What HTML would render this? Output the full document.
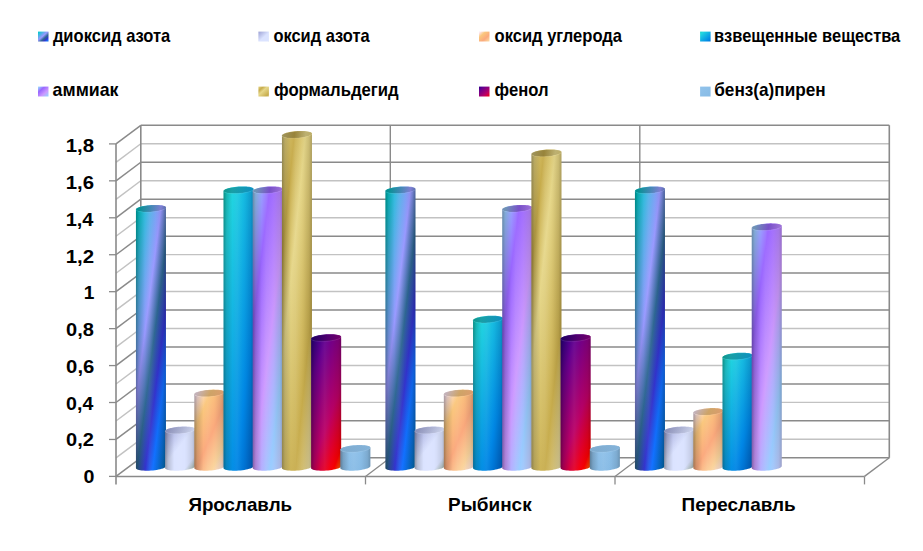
<!DOCTYPE html>
<html lang="ru"><head><meta charset="utf-8"><title>Диаграмма</title>
<style>html,body{margin:0;padding:0;background:#fff}body{width:923px;height:551px;overflow:hidden}svg{display:block}text{font-family:"Liberation Sans",sans-serif;font-weight:bold;fill:#000}</style>
</head><body>
<svg width="923" height="551" viewBox="0 0 923 551">
<defs>
<linearGradient id="g-peacock" x1="-0.1399" y1="-0.1609" x2="0.9365" y2="1.0770"><stop offset="0%" stop-color="#3399FF"/><stop offset="16%" stop-color="#00CCCC"/><stop offset="47%" stop-color="#9999FF"/><stop offset="60%" stop-color="#2E6792"/><stop offset="71%" stop-color="#3333CC"/><stop offset="81%" stop-color="#1170FF"/><stop offset="100%" stop-color="#006699"/></linearGradient>
<linearGradient id="g-fog" x1="-0.1399" y1="-0.1609" x2="0.9365" y2="1.0770"><stop offset="0%" stop-color="#888CC7"/><stop offset="53%" stop-color="#DBE3FF"/><stop offset="83%" stop-color="#DBE3FF"/><stop offset="100%" stop-color="#9CB09A"/></linearGradient>
<linearGradient id="g-wheat" x1="-0.1399" y1="-0.1609" x2="0.9365" y2="1.0770"><stop offset="0%" stop-color="#FBEAC7"/><stop offset="18%" stop-color="#FEE7F2"/><stop offset="36%" stop-color="#FAC77D"/><stop offset="61%" stop-color="#FBA97D"/><stop offset="82%" stop-color="#FBD49C"/><stop offset="100%" stop-color="#FEE7F2"/></linearGradient>
<linearGradient id="g-ocean" x1="-0.1399" y1="-0.1609" x2="0.9365" y2="1.0770"><stop offset="0%" stop-color="#03D4A8"/><stop offset="25%" stop-color="#21D6E0"/><stop offset="75%" stop-color="#0087E6"/><stop offset="100%" stop-color="#005CBF"/></linearGradient>
<linearGradient id="g-calm" x1="-0.1399" y1="-0.1609" x2="0.9365" y2="1.0770"><stop offset="0%" stop-color="#CCCCFF"/><stop offset="18%" stop-color="#99CCFF"/><stop offset="36%" stop-color="#9966FF"/><stop offset="61%" stop-color="#CC99FF"/><stop offset="82%" stop-color="#99CCFF"/><stop offset="100%" stop-color="#CCCCFF"/></linearGradient>
<linearGradient id="g-gold" x1="-0.1399" y1="-0.1609" x2="0.9365" y2="1.0770"><stop offset="0%" stop-color="#E6DCAC"/><stop offset="12%" stop-color="#E6D78A"/><stop offset="30%" stop-color="#C7AC4C"/><stop offset="45%" stop-color="#E6D78A"/><stop offset="77%" stop-color="#C7AC4C"/><stop offset="100%" stop-color="#E6DCAC"/></linearGradient>
<linearGradient id="g-sunset" x1="-0.0882" y1="-0.1471" x2="0.7139" y2="1.1898"><stop offset="0%" stop-color="#000082"/><stop offset="30%" stop-color="#66008F"/><stop offset="65%" stop-color="#BA0066"/><stop offset="90%" stop-color="#FF0000"/><stop offset="100%" stop-color="#FF8200"/></linearGradient>
<linearGradient id="g-benz" x1="-0.1399" y1="-0.1609" x2="0.9365" y2="1.0770"><stop offset="0%" stop-color="#93C4EC"/><stop offset="100%" stop-color="#86BAE4"/></linearGradient>
<linearGradient id="l-peacock" x1="-0.1708" y1="-0.1803" x2="1.1431" y2="1.2066"><stop offset="0%" stop-color="#3399FF"/><stop offset="16%" stop-color="#00CCCC"/><stop offset="47%" stop-color="#9999FF"/><stop offset="60%" stop-color="#2E6792"/><stop offset="71%" stop-color="#3333CC"/><stop offset="81%" stop-color="#1170FF"/><stop offset="100%" stop-color="#006699"/></linearGradient>
<linearGradient id="l-fog" x1="-0.1708" y1="-0.1803" x2="1.1431" y2="1.2066"><stop offset="0%" stop-color="#888CC7"/><stop offset="53%" stop-color="#DBE3FF"/><stop offset="83%" stop-color="#DBE3FF"/><stop offset="100%" stop-color="#9CB09A"/></linearGradient>
<linearGradient id="l-wheat" x1="-0.1708" y1="-0.1803" x2="1.1431" y2="1.2066"><stop offset="0%" stop-color="#FBEAC7"/><stop offset="18%" stop-color="#FEE7F2"/><stop offset="36%" stop-color="#FAC77D"/><stop offset="61%" stop-color="#FBA97D"/><stop offset="82%" stop-color="#FBD49C"/><stop offset="100%" stop-color="#FEE7F2"/></linearGradient>
<linearGradient id="l-ocean" x1="-0.1708" y1="-0.1803" x2="1.1431" y2="1.2066"><stop offset="0%" stop-color="#03D4A8"/><stop offset="25%" stop-color="#21D6E0"/><stop offset="75%" stop-color="#0087E6"/><stop offset="100%" stop-color="#005CBF"/></linearGradient>
<linearGradient id="l-calm" x1="-0.1708" y1="-0.1803" x2="1.1431" y2="1.2066"><stop offset="0%" stop-color="#CCCCFF"/><stop offset="18%" stop-color="#99CCFF"/><stop offset="36%" stop-color="#9966FF"/><stop offset="61%" stop-color="#CC99FF"/><stop offset="82%" stop-color="#99CCFF"/><stop offset="100%" stop-color="#CCCCFF"/></linearGradient>
<linearGradient id="l-gold" x1="-0.1708" y1="-0.1803" x2="1.1431" y2="1.2066"><stop offset="0%" stop-color="#E6DCAC"/><stop offset="12%" stop-color="#E6D78A"/><stop offset="30%" stop-color="#C7AC4C"/><stop offset="45%" stop-color="#E6D78A"/><stop offset="77%" stop-color="#C7AC4C"/><stop offset="100%" stop-color="#E6DCAC"/></linearGradient>
<linearGradient id="l-sunset" x1="-0.1708" y1="-0.1803" x2="1.1431" y2="1.2066"><stop offset="0%" stop-color="#000082"/><stop offset="30%" stop-color="#66008F"/><stop offset="65%" stop-color="#BA0066"/><stop offset="90%" stop-color="#FF0000"/><stop offset="100%" stop-color="#FF8200"/></linearGradient>
<linearGradient id="l-benz" x1="-0.1708" y1="-0.1803" x2="1.1431" y2="1.2066"><stop offset="0%" stop-color="#93C4EC"/><stop offset="100%" stop-color="#86BAE4"/></linearGradient>
<linearGradient id="shade" x1="0" y1="0" x2="1" y2="0"><stop offset="0" stop-color="#000" stop-opacity="0.34"/><stop offset="0.10" stop-color="#000" stop-opacity="0.16"/><stop offset="0.30" stop-color="#000" stop-opacity="0"/><stop offset="0.30" stop-color="#fff" stop-opacity="0"/><stop offset="0.45" stop-color="#fff" stop-opacity="0.05"/><stop offset="0.64" stop-color="#fff" stop-opacity="0"/><stop offset="0.64" stop-color="#000" stop-opacity="0"/><stop offset="0.72" stop-color="#000" stop-opacity="0.02"/><stop offset="0.90" stop-color="#000" stop-opacity="0.10"/><stop offset="1" stop-color="#000" stop-opacity="0.22"/></linearGradient>
<linearGradient id="topshade" x1="0" y1="0" x2="1" y2="0"><stop offset="0" stop-color="#000" stop-opacity="0.30"/><stop offset="1" stop-color="#000" stop-opacity="0.15"/></linearGradient>
</defs>
<rect width="923" height="551" fill="#fff"/>
<g fill="none" stroke-linecap="butt">
<line x1="140.80" y1="457.80" x2="889.30" y2="457.80" stroke="#8a8a8a" stroke-width="1.5"/>
<line x1="116.00" y1="476.40" x2="140.80" y2="457.80" stroke="#8a8a8a" stroke-width="1.5"/>
<line x1="109.00" y1="476.40" x2="116.00" y2="476.40" stroke="#8a8a8a" stroke-width="1.3"/>
<line x1="140.80" y1="439.33" x2="889.30" y2="439.33" stroke="#c2c2c2" stroke-width="1.45"/>
<line x1="116.00" y1="457.93" x2="140.80" y2="439.33" stroke="#c2c2c2" stroke-width="1.45"/>
<line x1="140.80" y1="420.86" x2="889.30" y2="420.86" stroke="#8a8a8a" stroke-width="1.5"/>
<line x1="116.00" y1="439.46" x2="140.80" y2="420.86" stroke="#8a8a8a" stroke-width="1.5"/>
<line x1="109.00" y1="439.46" x2="116.00" y2="439.46" stroke="#8a8a8a" stroke-width="1.3"/>
<line x1="140.80" y1="402.38" x2="889.30" y2="402.38" stroke="#c2c2c2" stroke-width="1.45"/>
<line x1="116.00" y1="420.98" x2="140.80" y2="402.38" stroke="#c2c2c2" stroke-width="1.45"/>
<line x1="140.80" y1="383.91" x2="889.30" y2="383.91" stroke="#8a8a8a" stroke-width="1.5"/>
<line x1="116.00" y1="402.51" x2="140.80" y2="383.91" stroke="#8a8a8a" stroke-width="1.5"/>
<line x1="109.00" y1="402.51" x2="116.00" y2="402.51" stroke="#8a8a8a" stroke-width="1.3"/>
<line x1="140.80" y1="365.44" x2="889.30" y2="365.44" stroke="#c2c2c2" stroke-width="1.45"/>
<line x1="116.00" y1="384.04" x2="140.80" y2="365.44" stroke="#c2c2c2" stroke-width="1.45"/>
<line x1="140.80" y1="346.97" x2="889.30" y2="346.97" stroke="#8a8a8a" stroke-width="1.5"/>
<line x1="116.00" y1="365.57" x2="140.80" y2="346.97" stroke="#8a8a8a" stroke-width="1.5"/>
<line x1="109.00" y1="365.57" x2="116.00" y2="365.57" stroke="#8a8a8a" stroke-width="1.3"/>
<line x1="140.80" y1="328.49" x2="889.30" y2="328.49" stroke="#c2c2c2" stroke-width="1.45"/>
<line x1="116.00" y1="347.09" x2="140.80" y2="328.49" stroke="#c2c2c2" stroke-width="1.45"/>
<line x1="140.80" y1="310.02" x2="889.30" y2="310.02" stroke="#8a8a8a" stroke-width="1.5"/>
<line x1="116.00" y1="328.62" x2="140.80" y2="310.02" stroke="#8a8a8a" stroke-width="1.5"/>
<line x1="109.00" y1="328.62" x2="116.00" y2="328.62" stroke="#8a8a8a" stroke-width="1.3"/>
<line x1="140.80" y1="291.55" x2="889.30" y2="291.55" stroke="#c2c2c2" stroke-width="1.45"/>
<line x1="116.00" y1="310.15" x2="140.80" y2="291.55" stroke="#c2c2c2" stroke-width="1.45"/>
<line x1="140.80" y1="273.08" x2="889.30" y2="273.08" stroke="#8a8a8a" stroke-width="1.5"/>
<line x1="116.00" y1="291.68" x2="140.80" y2="273.08" stroke="#8a8a8a" stroke-width="1.5"/>
<line x1="109.00" y1="291.68" x2="116.00" y2="291.68" stroke="#8a8a8a" stroke-width="1.3"/>
<line x1="140.80" y1="254.61" x2="889.30" y2="254.61" stroke="#c2c2c2" stroke-width="1.45"/>
<line x1="116.00" y1="273.21" x2="140.80" y2="254.61" stroke="#c2c2c2" stroke-width="1.45"/>
<line x1="140.80" y1="236.13" x2="889.30" y2="236.13" stroke="#8a8a8a" stroke-width="1.5"/>
<line x1="116.00" y1="254.73" x2="140.80" y2="236.13" stroke="#8a8a8a" stroke-width="1.5"/>
<line x1="109.00" y1="254.73" x2="116.00" y2="254.73" stroke="#8a8a8a" stroke-width="1.3"/>
<line x1="140.80" y1="217.66" x2="889.30" y2="217.66" stroke="#c2c2c2" stroke-width="1.45"/>
<line x1="116.00" y1="236.26" x2="140.80" y2="217.66" stroke="#c2c2c2" stroke-width="1.45"/>
<line x1="140.80" y1="199.19" x2="889.30" y2="199.19" stroke="#8a8a8a" stroke-width="1.5"/>
<line x1="116.00" y1="217.79" x2="140.80" y2="199.19" stroke="#8a8a8a" stroke-width="1.5"/>
<line x1="109.00" y1="217.79" x2="116.00" y2="217.79" stroke="#8a8a8a" stroke-width="1.3"/>
<line x1="140.80" y1="180.72" x2="889.30" y2="180.72" stroke="#c2c2c2" stroke-width="1.45"/>
<line x1="116.00" y1="199.32" x2="140.80" y2="180.72" stroke="#c2c2c2" stroke-width="1.45"/>
<line x1="140.80" y1="162.24" x2="889.30" y2="162.24" stroke="#8a8a8a" stroke-width="1.5"/>
<line x1="116.00" y1="180.84" x2="140.80" y2="162.24" stroke="#8a8a8a" stroke-width="1.5"/>
<line x1="109.00" y1="180.84" x2="116.00" y2="180.84" stroke="#8a8a8a" stroke-width="1.3"/>
<line x1="140.80" y1="143.77" x2="889.30" y2="143.77" stroke="#c2c2c2" stroke-width="1.45"/>
<line x1="116.00" y1="162.37" x2="140.80" y2="143.77" stroke="#c2c2c2" stroke-width="1.45"/>
<line x1="140.80" y1="125.30" x2="889.30" y2="125.30" stroke="#8a8a8a" stroke-width="1.5"/>
<line x1="116.00" y1="143.90" x2="140.80" y2="125.30" stroke="#8a8a8a" stroke-width="1.5"/>
<line x1="109.00" y1="143.90" x2="116.00" y2="143.90" stroke="#8a8a8a" stroke-width="1.3"/>
<line x1="140.80" y1="125.30" x2="140.80" y2="457.80" stroke="#8a8a8a" stroke-width="1.6"/>
<line x1="889.30" y1="125.30" x2="889.30" y2="457.80" stroke="#8a8a8a" stroke-width="1.6"/>
<line x1="116.00" y1="143.90" x2="116.00" y2="484.40" stroke="#8a8a8a" stroke-width="1.6"/>
<line x1="390.30" y1="125.30" x2="390.30" y2="457.80" stroke="#8a8a8a" stroke-width="1.4"/>
<line x1="390.30" y1="457.80" x2="365.50" y2="476.40" stroke="#8a8a8a" stroke-width="1.3"/>
<line x1="365.50" y1="476.40" x2="365.50" y2="484.40" stroke="#8a8a8a" stroke-width="1.3"/>
<line x1="639.80" y1="125.30" x2="639.80" y2="457.80" stroke="#8a8a8a" stroke-width="1.4"/>
<line x1="639.80" y1="457.80" x2="615.00" y2="476.40" stroke="#8a8a8a" stroke-width="1.3"/>
<line x1="615.00" y1="476.40" x2="615.00" y2="484.40" stroke="#8a8a8a" stroke-width="1.3"/>
<line x1="116.00" y1="476.40" x2="864.50" y2="476.40" stroke="#8a8a8a" stroke-width="1.5"/>
<line x1="864.50" y1="476.40" x2="889.30" y2="457.80" stroke="#8a8a8a" stroke-width="1.4"/>
<line x1="864.50" y1="476.40" x2="864.50" y2="484.40" stroke="#8a8a8a" stroke-width="1.3"/>
</g>
<path d="M135.95,209.50 L136.08,209.04 L136.46,208.57 L137.09,208.10 L137.96,207.63 L139.05,207.18 L140.34,206.76 L141.82,206.36 L143.45,206.00 L145.21,205.68 L147.07,205.41 L148.99,205.19 L150.95,205.03 L152.91,204.93 L154.83,204.89 L156.69,204.91 L158.45,204.99 L160.08,205.13 L161.56,205.33 L162.85,205.59 L163.94,205.89 L164.81,206.24 L165.44,206.62 L165.82,207.04 L165.95,207.48 L165.95,466.09 L165.82,466.55 L165.44,467.02 L164.81,467.49 L163.94,467.96 L162.85,468.40 L161.56,468.83 L160.08,469.23 L158.45,469.59 L156.69,469.91 L154.83,470.18 L152.91,470.39 L150.95,470.56 L148.99,470.66 L147.07,470.70 L145.21,470.68 L143.45,470.60 L141.82,470.46 L140.34,470.26 L139.05,470.00 L137.96,469.70 L137.09,469.35 L136.46,468.97 L136.08,468.55 L135.95,468.11Z" fill="url(#g-peacock)"/>
<path d="M135.95,209.50 L136.08,209.04 L136.46,208.57 L137.09,208.10 L137.96,207.63 L139.05,207.18 L140.34,206.76 L141.82,206.36 L143.45,206.00 L145.21,205.68 L147.07,205.41 L148.99,205.19 L150.95,205.03 L152.91,204.93 L154.83,204.89 L156.69,204.91 L158.45,204.99 L160.08,205.13 L161.56,205.33 L162.85,205.59 L163.94,205.89 L164.81,206.24 L165.44,206.62 L165.82,207.04 L165.95,207.48 L165.95,466.09 L165.82,466.55 L165.44,467.02 L164.81,467.49 L163.94,467.96 L162.85,468.40 L161.56,468.83 L160.08,469.23 L158.45,469.59 L156.69,469.91 L154.83,470.18 L152.91,470.39 L150.95,470.56 L148.99,470.66 L147.07,470.70 L145.21,470.68 L143.45,470.60 L141.82,470.46 L140.34,470.26 L139.05,470.00 L137.96,469.70 L137.09,469.35 L136.46,468.97 L136.08,468.55 L135.95,468.11Z" fill="url(#shade)"/>
<clipPath id="c00"><path d="M165.35,208.49 L165.78,208.02 L165.95,207.56 L165.86,207.11 L165.52,206.69 L164.93,206.30 L164.10,205.94 L163.05,205.63 L161.79,205.37 L160.34,205.16 L158.73,205.01 L156.99,204.92 L155.15,204.89 L153.23,204.92 L151.28,205.01 L149.32,205.16 L147.39,205.37 L145.52,205.63 L143.74,205.94 L142.08,206.30 L140.58,206.69 L139.25,207.11 L138.13,207.56 L137.22,208.02 L136.55,208.49 L136.12,208.96 L135.95,209.42 L136.04,209.87 L136.38,210.29 L136.97,210.68 L137.80,211.03 L138.85,211.34 L140.11,211.61 L141.56,211.81 L143.17,211.97 L144.91,212.06 L146.75,212.09 L148.67,212.06 L150.62,211.97 L152.58,211.81 L154.51,211.61 L156.38,211.34 L158.16,211.03 L159.82,210.68 L161.32,210.29 L162.65,209.87 L163.77,209.42 L164.68,208.96 L165.35,208.49Z"/></clipPath>
<g clip-path="url(#c00)"><path d="M135.95,209.50 L136.08,209.04 L136.46,208.57 L137.09,208.10 L137.96,207.63 L139.05,207.18 L140.34,206.76 L141.82,206.36 L143.45,206.00 L145.21,205.68 L147.07,205.41 L148.99,205.19 L150.95,205.03 L152.91,204.93 L154.83,204.89 L156.69,204.91 L158.45,204.99 L160.08,205.13 L161.56,205.33 L162.85,205.59 L163.94,205.89 L164.81,206.24 L165.44,206.62 L165.82,207.04 L165.95,207.48 L165.95,466.09 L165.82,466.55 L165.44,467.02 L164.81,467.49 L163.94,467.96 L162.85,468.40 L161.56,468.83 L160.08,469.23 L158.45,469.59 L156.69,469.91 L154.83,470.18 L152.91,470.39 L150.95,470.56 L148.99,470.66 L147.07,470.70 L145.21,470.68 L143.45,470.60 L141.82,470.46 L140.34,470.26 L139.05,470.00 L137.96,469.70 L137.09,469.35 L136.46,468.97 L136.08,468.55 L135.95,468.11Z" fill="url(#g-peacock)"/><path d="M165.35,208.49 L165.78,208.02 L165.95,207.56 L165.86,207.11 L165.52,206.69 L164.93,206.30 L164.10,205.94 L163.05,205.63 L161.79,205.37 L160.34,205.16 L158.73,205.01 L156.99,204.92 L155.15,204.89 L153.23,204.92 L151.28,205.01 L149.32,205.16 L147.39,205.37 L145.52,205.63 L143.74,205.94 L142.08,206.30 L140.58,206.69 L139.25,207.11 L138.13,207.56 L137.22,208.02 L136.55,208.49 L136.12,208.96 L135.95,209.42 L136.04,209.87 L136.38,210.29 L136.97,210.68 L137.80,211.03 L138.85,211.34 L140.11,211.61 L141.56,211.81 L143.17,211.97 L144.91,212.06 L146.75,212.09 L148.67,212.06 L150.62,211.97 L152.58,211.81 L154.51,211.61 L156.38,211.34 L158.16,211.03 L159.82,210.68 L161.32,210.29 L162.65,209.87 L163.77,209.42 L164.68,208.96 L165.35,208.49Z" fill="url(#topshade)" opacity="1"/></g>
<path d="M165.35,208.49 L165.78,208.02 L165.95,207.56 L165.86,207.11 L165.52,206.69 L164.93,206.30 L164.10,205.94 L163.05,205.63 L161.79,205.37 L160.34,205.16 L158.73,205.01 L156.99,204.92 L155.15,204.89 L153.23,204.92 L151.28,205.01 L149.32,205.16 L147.39,205.37 L145.52,205.63 L143.74,205.94 L142.08,206.30 L140.58,206.69 L139.25,207.11 L138.13,207.56 L137.22,208.02 L136.55,208.49 L136.12,208.96 L135.95,209.42 L136.04,209.87 L136.38,210.29 L136.97,210.68 L137.80,211.03 L138.85,211.34 L140.11,211.61 L141.56,211.81 L143.17,211.97 L144.91,212.06 L146.75,212.09 L148.67,212.06 L150.62,211.97 L152.58,211.81 L154.51,211.61 L156.38,211.34 L158.16,211.03 L159.82,210.68 L161.32,210.29 L162.65,209.87 L163.77,209.42 L164.68,208.96 L165.35,208.49Z" fill="none" stroke="#fff" stroke-opacity="0.13" stroke-width="0.8"/>
<path d="M165.15,431.16 L165.28,430.70 L165.66,430.23 L166.29,429.76 L167.16,429.30 L168.25,428.85 L169.54,428.42 L171.02,428.03 L172.65,427.67 L174.41,427.35 L176.27,427.08 L178.19,426.86 L180.15,426.70 L182.11,426.60 L184.03,426.56 L185.89,426.58 L187.65,426.66 L189.28,426.80 L190.76,427.00 L192.05,427.25 L193.14,427.55 L194.01,427.90 L194.64,428.29 L195.02,428.71 L195.15,429.15 L195.15,466.09 L195.02,466.55 L194.64,467.02 L194.01,467.49 L193.14,467.96 L192.05,468.40 L190.76,468.83 L189.28,469.23 L187.65,469.59 L185.89,469.91 L184.03,470.18 L182.11,470.39 L180.15,470.56 L178.19,470.66 L176.27,470.70 L174.41,470.68 L172.65,470.60 L171.02,470.46 L169.54,470.26 L168.25,470.00 L167.16,469.70 L166.29,469.35 L165.66,468.97 L165.28,468.55 L165.15,468.11Z" fill="url(#g-fog)"/>
<path d="M165.15,431.16 L165.28,430.70 L165.66,430.23 L166.29,429.76 L167.16,429.30 L168.25,428.85 L169.54,428.42 L171.02,428.03 L172.65,427.67 L174.41,427.35 L176.27,427.08 L178.19,426.86 L180.15,426.70 L182.11,426.60 L184.03,426.56 L185.89,426.58 L187.65,426.66 L189.28,426.80 L190.76,427.00 L192.05,427.25 L193.14,427.55 L194.01,427.90 L194.64,428.29 L195.02,428.71 L195.15,429.15 L195.15,466.09 L195.02,466.55 L194.64,467.02 L194.01,467.49 L193.14,467.96 L192.05,468.40 L190.76,468.83 L189.28,469.23 L187.65,469.59 L185.89,469.91 L184.03,470.18 L182.11,470.39 L180.15,470.56 L178.19,470.66 L176.27,470.70 L174.41,470.68 L172.65,470.60 L171.02,470.46 L169.54,470.26 L168.25,470.00 L167.16,469.70 L166.29,469.35 L165.66,468.97 L165.28,468.55 L165.15,468.11Z" fill="url(#shade)"/>
<clipPath id="c01"><path d="M194.55,430.16 L194.98,429.69 L195.15,429.22 L195.06,428.78 L194.72,428.36 L194.13,427.96 L193.30,427.61 L192.25,427.30 L190.99,427.04 L189.54,426.83 L187.93,426.68 L186.19,426.59 L184.35,426.56 L182.43,426.59 L180.48,426.68 L178.52,426.83 L176.59,427.04 L174.72,427.30 L172.94,427.61 L171.28,427.96 L169.78,428.36 L168.45,428.78 L167.33,429.22 L166.42,429.69 L165.75,430.16 L165.32,430.63 L165.15,431.09 L165.24,431.53 L165.58,431.96 L166.17,432.35 L167.00,432.70 L168.05,433.01 L169.31,433.27 L170.76,433.48 L172.37,433.63 L174.11,433.72 L175.95,433.76 L177.87,433.72 L179.82,433.63 L181.78,433.48 L183.71,433.27 L185.58,433.01 L187.36,432.70 L189.02,432.35 L190.52,431.96 L191.85,431.53 L192.97,431.09 L193.88,430.63 L194.55,430.16Z"/></clipPath>
<g clip-path="url(#c01)"><path d="M165.15,431.16 L165.28,430.70 L165.66,430.23 L166.29,429.76 L167.16,429.30 L168.25,428.85 L169.54,428.42 L171.02,428.03 L172.65,427.67 L174.41,427.35 L176.27,427.08 L178.19,426.86 L180.15,426.70 L182.11,426.60 L184.03,426.56 L185.89,426.58 L187.65,426.66 L189.28,426.80 L190.76,427.00 L192.05,427.25 L193.14,427.55 L194.01,427.90 L194.64,428.29 L195.02,428.71 L195.15,429.15 L195.15,466.09 L195.02,466.55 L194.64,467.02 L194.01,467.49 L193.14,467.96 L192.05,468.40 L190.76,468.83 L189.28,469.23 L187.65,469.59 L185.89,469.91 L184.03,470.18 L182.11,470.39 L180.15,470.56 L178.19,470.66 L176.27,470.70 L174.41,470.68 L172.65,470.60 L171.02,470.46 L169.54,470.26 L168.25,470.00 L167.16,469.70 L166.29,469.35 L165.66,468.97 L165.28,468.55 L165.15,468.11Z" fill="url(#g-fog)"/><path d="M194.55,430.16 L194.98,429.69 L195.15,429.22 L195.06,428.78 L194.72,428.36 L194.13,427.96 L193.30,427.61 L192.25,427.30 L190.99,427.04 L189.54,426.83 L187.93,426.68 L186.19,426.59 L184.35,426.56 L182.43,426.59 L180.48,426.68 L178.52,426.83 L176.59,427.04 L174.72,427.30 L172.94,427.61 L171.28,427.96 L169.78,428.36 L168.45,428.78 L167.33,429.22 L166.42,429.69 L165.75,430.16 L165.32,430.63 L165.15,431.09 L165.24,431.53 L165.58,431.96 L166.17,432.35 L167.00,432.70 L168.05,433.01 L169.31,433.27 L170.76,433.48 L172.37,433.63 L174.11,433.72 L175.95,433.76 L177.87,433.72 L179.82,433.63 L181.78,433.48 L183.71,433.27 L185.58,433.01 L187.36,432.70 L189.02,432.35 L190.52,431.96 L191.85,431.53 L192.97,431.09 L193.88,430.63 L194.55,430.16Z" fill="url(#topshade)" opacity="0.55"/></g>
<path d="M194.55,430.16 L194.98,429.69 L195.15,429.22 L195.06,428.78 L194.72,428.36 L194.13,427.96 L193.30,427.61 L192.25,427.30 L190.99,427.04 L189.54,426.83 L187.93,426.68 L186.19,426.59 L184.35,426.56 L182.43,426.59 L180.48,426.68 L178.52,426.83 L176.59,427.04 L174.72,427.30 L172.94,427.61 L171.28,427.96 L169.78,428.36 L168.45,428.78 L167.33,429.22 L166.42,429.69 L165.75,430.16 L165.32,430.63 L165.15,431.09 L165.24,431.53 L165.58,431.96 L166.17,432.35 L167.00,432.70 L168.05,433.01 L169.31,433.27 L170.76,433.48 L172.37,433.63 L174.11,433.72 L175.95,433.76 L177.87,433.72 L179.82,433.63 L181.78,433.48 L183.71,433.27 L185.58,433.01 L187.36,432.70 L189.02,432.35 L190.52,431.96 L191.85,431.53 L192.97,431.09 L193.88,430.63 L194.55,430.16Z" fill="none" stroke="#fff" stroke-opacity="0.13" stroke-width="0.8"/>
<path d="M194.35,394.22 L194.48,393.76 L194.86,393.29 L195.49,392.82 L196.36,392.36 L197.45,391.91 L198.74,391.48 L200.22,391.08 L201.85,390.72 L203.61,390.40 L205.47,390.13 L207.39,389.92 L209.35,389.76 L211.31,389.65 L213.23,389.61 L215.09,389.63 L216.85,389.71 L218.48,389.86 L219.96,390.05 L221.25,390.31 L222.34,390.61 L223.21,390.96 L223.84,391.34 L224.22,391.76 L224.35,392.20 L224.35,466.09 L224.22,466.55 L223.84,467.02 L223.21,467.49 L222.34,467.96 L221.25,468.40 L219.96,468.83 L218.48,469.23 L216.85,469.59 L215.09,469.91 L213.23,470.18 L211.31,470.39 L209.35,470.56 L207.39,470.66 L205.47,470.70 L203.61,470.68 L201.85,470.60 L200.22,470.46 L198.74,470.26 L197.45,470.00 L196.36,469.70 L195.49,469.35 L194.86,468.97 L194.48,468.55 L194.35,468.11Z" fill="url(#g-wheat)"/>
<path d="M194.35,394.22 L194.48,393.76 L194.86,393.29 L195.49,392.82 L196.36,392.36 L197.45,391.91 L198.74,391.48 L200.22,391.08 L201.85,390.72 L203.61,390.40 L205.47,390.13 L207.39,389.92 L209.35,389.76 L211.31,389.65 L213.23,389.61 L215.09,389.63 L216.85,389.71 L218.48,389.86 L219.96,390.05 L221.25,390.31 L222.34,390.61 L223.21,390.96 L223.84,391.34 L224.22,391.76 L224.35,392.20 L224.35,466.09 L224.22,466.55 L223.84,467.02 L223.21,467.49 L222.34,467.96 L221.25,468.40 L219.96,468.83 L218.48,469.23 L216.85,469.59 L215.09,469.91 L213.23,470.18 L211.31,470.39 L209.35,470.56 L207.39,470.66 L205.47,470.70 L203.61,470.68 L201.85,470.60 L200.22,470.46 L198.74,470.26 L197.45,470.00 L196.36,469.70 L195.49,469.35 L194.86,468.97 L194.48,468.55 L194.35,468.11Z" fill="url(#shade)"/>
<clipPath id="c02"><path d="M223.75,393.21 L224.18,392.74 L224.35,392.28 L224.26,391.83 L223.92,391.41 L223.33,391.02 L222.50,390.67 L221.45,390.36 L220.19,390.09 L218.74,389.89 L217.13,389.73 L215.39,389.64 L213.55,389.61 L211.63,389.64 L209.68,389.73 L207.72,389.89 L205.79,390.09 L203.92,390.36 L202.14,390.67 L200.48,391.02 L198.98,391.41 L197.65,391.83 L196.53,392.28 L195.62,392.74 L194.95,393.21 L194.52,393.68 L194.35,394.14 L194.44,394.59 L194.78,395.01 L195.37,395.40 L196.20,395.76 L197.25,396.07 L198.51,396.33 L199.96,396.54 L201.57,396.69 L203.31,396.78 L205.15,396.81 L207.07,396.78 L209.02,396.69 L210.98,396.54 L212.91,396.33 L214.78,396.07 L216.56,395.76 L218.22,395.40 L219.72,395.01 L221.05,394.59 L222.17,394.14 L223.08,393.68 L223.75,393.21Z"/></clipPath>
<g clip-path="url(#c02)"><path d="M194.35,394.22 L194.48,393.76 L194.86,393.29 L195.49,392.82 L196.36,392.36 L197.45,391.91 L198.74,391.48 L200.22,391.08 L201.85,390.72 L203.61,390.40 L205.47,390.13 L207.39,389.92 L209.35,389.76 L211.31,389.65 L213.23,389.61 L215.09,389.63 L216.85,389.71 L218.48,389.86 L219.96,390.05 L221.25,390.31 L222.34,390.61 L223.21,390.96 L223.84,391.34 L224.22,391.76 L224.35,392.20 L224.35,466.09 L224.22,466.55 L223.84,467.02 L223.21,467.49 L222.34,467.96 L221.25,468.40 L219.96,468.83 L218.48,469.23 L216.85,469.59 L215.09,469.91 L213.23,470.18 L211.31,470.39 L209.35,470.56 L207.39,470.66 L205.47,470.70 L203.61,470.68 L201.85,470.60 L200.22,470.46 L198.74,470.26 L197.45,470.00 L196.36,469.70 L195.49,469.35 L194.86,468.97 L194.48,468.55 L194.35,468.11Z" fill="url(#g-wheat)"/><path d="M223.75,393.21 L224.18,392.74 L224.35,392.28 L224.26,391.83 L223.92,391.41 L223.33,391.02 L222.50,390.67 L221.45,390.36 L220.19,390.09 L218.74,389.89 L217.13,389.73 L215.39,389.64 L213.55,389.61 L211.63,389.64 L209.68,389.73 L207.72,389.89 L205.79,390.09 L203.92,390.36 L202.14,390.67 L200.48,391.02 L198.98,391.41 L197.65,391.83 L196.53,392.28 L195.62,392.74 L194.95,393.21 L194.52,393.68 L194.35,394.14 L194.44,394.59 L194.78,395.01 L195.37,395.40 L196.20,395.76 L197.25,396.07 L198.51,396.33 L199.96,396.54 L201.57,396.69 L203.31,396.78 L205.15,396.81 L207.07,396.78 L209.02,396.69 L210.98,396.54 L212.91,396.33 L214.78,396.07 L216.56,395.76 L218.22,395.40 L219.72,395.01 L221.05,394.59 L222.17,394.14 L223.08,393.68 L223.75,393.21Z" fill="url(#topshade)" opacity="0.8"/></g>
<path d="M223.75,393.21 L224.18,392.74 L224.35,392.28 L224.26,391.83 L223.92,391.41 L223.33,391.02 L222.50,390.67 L221.45,390.36 L220.19,390.09 L218.74,389.89 L217.13,389.73 L215.39,389.64 L213.55,389.61 L211.63,389.64 L209.68,389.73 L207.72,389.89 L205.79,390.09 L203.92,390.36 L202.14,390.67 L200.48,391.02 L198.98,391.41 L197.65,391.83 L196.53,392.28 L195.62,392.74 L194.95,393.21 L194.52,393.68 L194.35,394.14 L194.44,394.59 L194.78,395.01 L195.37,395.40 L196.20,395.76 L197.25,396.07 L198.51,396.33 L199.96,396.54 L201.57,396.69 L203.31,396.78 L205.15,396.81 L207.07,396.78 L209.02,396.69 L210.98,396.54 L212.91,396.33 L214.78,396.07 L216.56,395.76 L218.22,395.40 L219.72,395.01 L221.05,394.59 L222.17,394.14 L223.08,393.68 L223.75,393.21Z" fill="none" stroke="#fff" stroke-opacity="0.13" stroke-width="0.8"/>
<path d="M223.55,191.02 L223.68,190.56 L224.06,190.10 L224.69,189.63 L225.56,189.16 L226.65,188.71 L227.94,188.29 L229.42,187.89 L231.05,187.53 L232.81,187.21 L234.67,186.94 L236.59,186.72 L238.55,186.56 L240.51,186.46 L242.43,186.42 L244.29,186.44 L246.05,186.52 L247.68,186.66 L249.16,186.86 L250.45,187.11 L251.54,187.42 L252.41,187.76 L253.04,188.15 L253.42,188.57 L253.55,189.01 L253.55,466.09 L253.42,466.55 L253.04,467.02 L252.41,467.49 L251.54,467.96 L250.45,468.40 L249.16,468.83 L247.68,469.23 L246.05,469.59 L244.29,469.91 L242.43,470.18 L240.51,470.39 L238.55,470.56 L236.59,470.66 L234.67,470.70 L232.81,470.68 L231.05,470.60 L229.42,470.46 L227.94,470.26 L226.65,470.00 L225.56,469.70 L224.69,469.35 L224.06,468.97 L223.68,468.55 L223.55,468.11Z" fill="url(#g-ocean)"/>
<path d="M223.55,191.02 L223.68,190.56 L224.06,190.10 L224.69,189.63 L225.56,189.16 L226.65,188.71 L227.94,188.29 L229.42,187.89 L231.05,187.53 L232.81,187.21 L234.67,186.94 L236.59,186.72 L238.55,186.56 L240.51,186.46 L242.43,186.42 L244.29,186.44 L246.05,186.52 L247.68,186.66 L249.16,186.86 L250.45,187.11 L251.54,187.42 L252.41,187.76 L253.04,188.15 L253.42,188.57 L253.55,189.01 L253.55,466.09 L253.42,466.55 L253.04,467.02 L252.41,467.49 L251.54,467.96 L250.45,468.40 L249.16,468.83 L247.68,469.23 L246.05,469.59 L244.29,469.91 L242.43,470.18 L240.51,470.39 L238.55,470.56 L236.59,470.66 L234.67,470.70 L232.81,470.68 L231.05,470.60 L229.42,470.46 L227.94,470.26 L226.65,470.00 L225.56,469.70 L224.69,469.35 L224.06,468.97 L223.68,468.55 L223.55,468.11Z" fill="url(#shade)"/>
<clipPath id="c03"><path d="M252.95,190.02 L253.38,189.55 L253.55,189.08 L253.46,188.64 L253.12,188.22 L252.53,187.83 L251.70,187.47 L250.65,187.16 L249.39,186.90 L247.94,186.69 L246.33,186.54 L244.59,186.45 L242.75,186.42 L240.83,186.45 L238.88,186.54 L236.92,186.69 L234.99,186.90 L233.12,187.16 L231.34,187.47 L229.68,187.83 L228.18,188.22 L226.85,188.64 L225.73,189.08 L224.82,189.55 L224.15,190.02 L223.72,190.49 L223.55,190.95 L223.64,191.39 L223.98,191.82 L224.57,192.21 L225.40,192.56 L226.45,192.87 L227.71,193.13 L229.16,193.34 L230.77,193.49 L232.51,193.59 L234.35,193.62 L236.27,193.59 L238.22,193.49 L240.18,193.34 L242.11,193.13 L243.98,192.87 L245.76,192.56 L247.42,192.21 L248.92,191.82 L250.25,191.39 L251.37,190.95 L252.28,190.49 L252.95,190.02Z"/></clipPath>
<g clip-path="url(#c03)"><path d="M223.55,191.02 L223.68,190.56 L224.06,190.10 L224.69,189.63 L225.56,189.16 L226.65,188.71 L227.94,188.29 L229.42,187.89 L231.05,187.53 L232.81,187.21 L234.67,186.94 L236.59,186.72 L238.55,186.56 L240.51,186.46 L242.43,186.42 L244.29,186.44 L246.05,186.52 L247.68,186.66 L249.16,186.86 L250.45,187.11 L251.54,187.42 L252.41,187.76 L253.04,188.15 L253.42,188.57 L253.55,189.01 L253.55,466.09 L253.42,466.55 L253.04,467.02 L252.41,467.49 L251.54,467.96 L250.45,468.40 L249.16,468.83 L247.68,469.23 L246.05,469.59 L244.29,469.91 L242.43,470.18 L240.51,470.39 L238.55,470.56 L236.59,470.66 L234.67,470.70 L232.81,470.68 L231.05,470.60 L229.42,470.46 L227.94,470.26 L226.65,470.00 L225.56,469.70 L224.69,469.35 L224.06,468.97 L223.68,468.55 L223.55,468.11Z" fill="url(#g-ocean)"/><path d="M252.95,190.02 L253.38,189.55 L253.55,189.08 L253.46,188.64 L253.12,188.22 L252.53,187.83 L251.70,187.47 L250.65,187.16 L249.39,186.90 L247.94,186.69 L246.33,186.54 L244.59,186.45 L242.75,186.42 L240.83,186.45 L238.88,186.54 L236.92,186.69 L234.99,186.90 L233.12,187.16 L231.34,187.47 L229.68,187.83 L228.18,188.22 L226.85,188.64 L225.73,189.08 L224.82,189.55 L224.15,190.02 L223.72,190.49 L223.55,190.95 L223.64,191.39 L223.98,191.82 L224.57,192.21 L225.40,192.56 L226.45,192.87 L227.71,193.13 L229.16,193.34 L230.77,193.49 L232.51,193.59 L234.35,193.62 L236.27,193.59 L238.22,193.49 L240.18,193.34 L242.11,193.13 L243.98,192.87 L245.76,192.56 L247.42,192.21 L248.92,191.82 L250.25,191.39 L251.37,190.95 L252.28,190.49 L252.95,190.02Z" fill="url(#topshade)" opacity="1"/></g>
<path d="M252.95,190.02 L253.38,189.55 L253.55,189.08 L253.46,188.64 L253.12,188.22 L252.53,187.83 L251.70,187.47 L250.65,187.16 L249.39,186.90 L247.94,186.69 L246.33,186.54 L244.59,186.45 L242.75,186.42 L240.83,186.45 L238.88,186.54 L236.92,186.69 L234.99,186.90 L233.12,187.16 L231.34,187.47 L229.68,187.83 L228.18,188.22 L226.85,188.64 L225.73,189.08 L224.82,189.55 L224.15,190.02 L223.72,190.49 L223.55,190.95 L223.64,191.39 L223.98,191.82 L224.57,192.21 L225.40,192.56 L226.45,192.87 L227.71,193.13 L229.16,193.34 L230.77,193.49 L232.51,193.59 L234.35,193.62 L236.27,193.59 L238.22,193.49 L240.18,193.34 L242.11,193.13 L243.98,192.87 L245.76,192.56 L247.42,192.21 L248.92,191.82 L250.25,191.39 L251.37,190.95 L252.28,190.49 L252.95,190.02Z" fill="none" stroke="#fff" stroke-opacity="0.13" stroke-width="0.8"/>
<path d="M252.75,191.02 L252.88,190.56 L253.26,190.10 L253.89,189.63 L254.76,189.16 L255.85,188.71 L257.14,188.29 L258.62,187.89 L260.25,187.53 L262.01,187.21 L263.87,186.94 L265.79,186.72 L267.75,186.56 L269.71,186.46 L271.63,186.42 L273.49,186.44 L275.25,186.52 L276.88,186.66 L278.36,186.86 L279.65,187.11 L280.74,187.42 L281.61,187.76 L282.24,188.15 L282.62,188.57 L282.75,189.01 L282.75,466.09 L282.62,466.55 L282.24,467.02 L281.61,467.49 L280.74,467.96 L279.65,468.40 L278.36,468.83 L276.88,469.23 L275.25,469.59 L273.49,469.91 L271.63,470.18 L269.71,470.39 L267.75,470.56 L265.79,470.66 L263.87,470.70 L262.01,470.68 L260.25,470.60 L258.62,470.46 L257.14,470.26 L255.85,470.00 L254.76,469.70 L253.89,469.35 L253.26,468.97 L252.88,468.55 L252.75,468.11Z" fill="url(#g-calm)"/>
<path d="M252.75,191.02 L252.88,190.56 L253.26,190.10 L253.89,189.63 L254.76,189.16 L255.85,188.71 L257.14,188.29 L258.62,187.89 L260.25,187.53 L262.01,187.21 L263.87,186.94 L265.79,186.72 L267.75,186.56 L269.71,186.46 L271.63,186.42 L273.49,186.44 L275.25,186.52 L276.88,186.66 L278.36,186.86 L279.65,187.11 L280.74,187.42 L281.61,187.76 L282.24,188.15 L282.62,188.57 L282.75,189.01 L282.75,466.09 L282.62,466.55 L282.24,467.02 L281.61,467.49 L280.74,467.96 L279.65,468.40 L278.36,468.83 L276.88,469.23 L275.25,469.59 L273.49,469.91 L271.63,470.18 L269.71,470.39 L267.75,470.56 L265.79,470.66 L263.87,470.70 L262.01,470.68 L260.25,470.60 L258.62,470.46 L257.14,470.26 L255.85,470.00 L254.76,469.70 L253.89,469.35 L253.26,468.97 L252.88,468.55 L252.75,468.11Z" fill="url(#shade)"/>
<clipPath id="c04"><path d="M282.15,190.02 L282.58,189.55 L282.75,189.08 L282.66,188.64 L282.32,188.22 L281.73,187.83 L280.90,187.47 L279.85,187.16 L278.59,186.90 L277.14,186.69 L275.53,186.54 L273.79,186.45 L271.95,186.42 L270.03,186.45 L268.08,186.54 L266.12,186.69 L264.19,186.90 L262.32,187.16 L260.54,187.47 L258.88,187.83 L257.38,188.22 L256.05,188.64 L254.93,189.08 L254.02,189.55 L253.35,190.02 L252.92,190.49 L252.75,190.95 L252.84,191.39 L253.18,191.82 L253.77,192.21 L254.60,192.56 L255.65,192.87 L256.91,193.13 L258.36,193.34 L259.97,193.49 L261.71,193.59 L263.55,193.62 L265.47,193.59 L267.42,193.49 L269.38,193.34 L271.31,193.13 L273.18,192.87 L274.96,192.56 L276.62,192.21 L278.12,191.82 L279.45,191.39 L280.57,190.95 L281.48,190.49 L282.15,190.02Z"/></clipPath>
<g clip-path="url(#c04)"><path d="M252.75,191.02 L252.88,190.56 L253.26,190.10 L253.89,189.63 L254.76,189.16 L255.85,188.71 L257.14,188.29 L258.62,187.89 L260.25,187.53 L262.01,187.21 L263.87,186.94 L265.79,186.72 L267.75,186.56 L269.71,186.46 L271.63,186.42 L273.49,186.44 L275.25,186.52 L276.88,186.66 L278.36,186.86 L279.65,187.11 L280.74,187.42 L281.61,187.76 L282.24,188.15 L282.62,188.57 L282.75,189.01 L282.75,466.09 L282.62,466.55 L282.24,467.02 L281.61,467.49 L280.74,467.96 L279.65,468.40 L278.36,468.83 L276.88,469.23 L275.25,469.59 L273.49,469.91 L271.63,470.18 L269.71,470.39 L267.75,470.56 L265.79,470.66 L263.87,470.70 L262.01,470.68 L260.25,470.60 L258.62,470.46 L257.14,470.26 L255.85,470.00 L254.76,469.70 L253.89,469.35 L253.26,468.97 L252.88,468.55 L252.75,468.11Z" fill="url(#g-calm)"/><path d="M282.15,190.02 L282.58,189.55 L282.75,189.08 L282.66,188.64 L282.32,188.22 L281.73,187.83 L280.90,187.47 L279.85,187.16 L278.59,186.90 L277.14,186.69 L275.53,186.54 L273.79,186.45 L271.95,186.42 L270.03,186.45 L268.08,186.54 L266.12,186.69 L264.19,186.90 L262.32,187.16 L260.54,187.47 L258.88,187.83 L257.38,188.22 L256.05,188.64 L254.93,189.08 L254.02,189.55 L253.35,190.02 L252.92,190.49 L252.75,190.95 L252.84,191.39 L253.18,191.82 L253.77,192.21 L254.60,192.56 L255.65,192.87 L256.91,193.13 L258.36,193.34 L259.97,193.49 L261.71,193.59 L263.55,193.62 L265.47,193.59 L267.42,193.49 L269.38,193.34 L271.31,193.13 L273.18,192.87 L274.96,192.56 L276.62,192.21 L278.12,191.82 L279.45,191.39 L280.57,190.95 L281.48,190.49 L282.15,190.02Z" fill="url(#topshade)" opacity="1"/></g>
<path d="M282.15,190.02 L282.58,189.55 L282.75,189.08 L282.66,188.64 L282.32,188.22 L281.73,187.83 L280.90,187.47 L279.85,187.16 L278.59,186.90 L277.14,186.69 L275.53,186.54 L273.79,186.45 L271.95,186.42 L270.03,186.45 L268.08,186.54 L266.12,186.69 L264.19,186.90 L262.32,187.16 L260.54,187.47 L258.88,187.83 L257.38,188.22 L256.05,188.64 L254.93,189.08 L254.02,189.55 L253.35,190.02 L252.92,190.49 L252.75,190.95 L252.84,191.39 L253.18,191.82 L253.77,192.21 L254.60,192.56 L255.65,192.87 L256.91,193.13 L258.36,193.34 L259.97,193.49 L261.71,193.59 L263.55,193.62 L265.47,193.59 L267.42,193.49 L269.38,193.34 L271.31,193.13 L273.18,192.87 L274.96,192.56 L276.62,192.21 L278.12,191.82 L279.45,191.39 L280.57,190.95 L281.48,190.49 L282.15,190.02Z" fill="none" stroke="#fff" stroke-opacity="0.13" stroke-width="0.8"/>
<path d="M281.95,135.61 L282.08,135.15 L282.46,134.68 L283.09,134.21 L283.96,133.74 L285.05,133.30 L286.34,132.87 L287.82,132.47 L289.45,132.11 L291.21,131.79 L293.07,131.52 L294.99,131.31 L296.95,131.14 L298.91,131.04 L300.83,131.00 L302.69,131.02 L304.45,131.10 L306.08,131.24 L307.56,131.44 L308.85,131.70 L309.94,132.00 L310.81,132.35 L311.44,132.73 L311.82,133.15 L311.95,133.59 L311.95,466.09 L311.82,466.55 L311.44,467.02 L310.81,467.49 L309.94,467.96 L308.85,468.40 L307.56,468.83 L306.08,469.23 L304.45,469.59 L302.69,469.91 L300.83,470.18 L298.91,470.39 L296.95,470.56 L294.99,470.66 L293.07,470.70 L291.21,470.68 L289.45,470.60 L287.82,470.46 L286.34,470.26 L285.05,470.00 L283.96,469.70 L283.09,469.35 L282.46,468.97 L282.08,468.55 L281.95,468.11Z" fill="url(#g-gold)"/>
<path d="M281.95,135.61 L282.08,135.15 L282.46,134.68 L283.09,134.21 L283.96,133.74 L285.05,133.30 L286.34,132.87 L287.82,132.47 L289.45,132.11 L291.21,131.79 L293.07,131.52 L294.99,131.31 L296.95,131.14 L298.91,131.04 L300.83,131.00 L302.69,131.02 L304.45,131.10 L306.08,131.24 L307.56,131.44 L308.85,131.70 L309.94,132.00 L310.81,132.35 L311.44,132.73 L311.82,133.15 L311.95,133.59 L311.95,466.09 L311.82,466.55 L311.44,467.02 L310.81,467.49 L309.94,467.96 L308.85,468.40 L307.56,468.83 L306.08,469.23 L304.45,469.59 L302.69,469.91 L300.83,470.18 L298.91,470.39 L296.95,470.56 L294.99,470.66 L293.07,470.70 L291.21,470.68 L289.45,470.60 L287.82,470.46 L286.34,470.26 L285.05,470.00 L283.96,469.70 L283.09,469.35 L282.46,468.97 L282.08,468.55 L281.95,468.11Z" fill="url(#shade)"/>
<clipPath id="c05"><path d="M311.35,134.60 L311.78,134.13 L311.95,133.67 L311.86,133.22 L311.52,132.80 L310.93,132.41 L310.10,132.05 L309.05,131.74 L307.79,131.48 L306.34,131.27 L304.73,131.12 L302.99,131.03 L301.15,131.00 L299.23,131.03 L297.28,131.12 L295.32,131.27 L293.39,131.48 L291.52,131.74 L289.74,132.05 L288.08,132.41 L286.58,132.80 L285.25,133.22 L284.13,133.67 L283.22,134.13 L282.55,134.60 L282.12,135.07 L281.95,135.53 L282.04,135.98 L282.38,136.40 L282.97,136.79 L283.80,137.15 L284.85,137.46 L286.11,137.72 L287.56,137.93 L289.17,138.08 L290.91,138.17 L292.75,138.20 L294.67,138.17 L296.62,138.08 L298.58,137.93 L300.51,137.72 L302.38,137.46 L304.16,137.15 L305.82,136.79 L307.32,136.40 L308.65,135.98 L309.77,135.53 L310.68,135.07 L311.35,134.60Z"/></clipPath>
<g clip-path="url(#c05)"><path d="M281.95,135.61 L282.08,135.15 L282.46,134.68 L283.09,134.21 L283.96,133.74 L285.05,133.30 L286.34,132.87 L287.82,132.47 L289.45,132.11 L291.21,131.79 L293.07,131.52 L294.99,131.31 L296.95,131.14 L298.91,131.04 L300.83,131.00 L302.69,131.02 L304.45,131.10 L306.08,131.24 L307.56,131.44 L308.85,131.70 L309.94,132.00 L310.81,132.35 L311.44,132.73 L311.82,133.15 L311.95,133.59 L311.95,466.09 L311.82,466.55 L311.44,467.02 L310.81,467.49 L309.94,467.96 L308.85,468.40 L307.56,468.83 L306.08,469.23 L304.45,469.59 L302.69,469.91 L300.83,470.18 L298.91,470.39 L296.95,470.56 L294.99,470.66 L293.07,470.70 L291.21,470.68 L289.45,470.60 L287.82,470.46 L286.34,470.26 L285.05,470.00 L283.96,469.70 L283.09,469.35 L282.46,468.97 L282.08,468.55 L281.95,468.11Z" fill="url(#g-gold)"/><path d="M311.35,134.60 L311.78,134.13 L311.95,133.67 L311.86,133.22 L311.52,132.80 L310.93,132.41 L310.10,132.05 L309.05,131.74 L307.79,131.48 L306.34,131.27 L304.73,131.12 L302.99,131.03 L301.15,131.00 L299.23,131.03 L297.28,131.12 L295.32,131.27 L293.39,131.48 L291.52,131.74 L289.74,132.05 L288.08,132.41 L286.58,132.80 L285.25,133.22 L284.13,133.67 L283.22,134.13 L282.55,134.60 L282.12,135.07 L281.95,135.53 L282.04,135.98 L282.38,136.40 L282.97,136.79 L283.80,137.15 L284.85,137.46 L286.11,137.72 L287.56,137.93 L289.17,138.08 L290.91,138.17 L292.75,138.20 L294.67,138.17 L296.62,138.08 L298.58,137.93 L300.51,137.72 L302.38,137.46 L304.16,137.15 L305.82,136.79 L307.32,136.40 L308.65,135.98 L309.77,135.53 L310.68,135.07 L311.35,134.60Z" fill="url(#topshade)" opacity="1"/></g>
<path d="M311.35,134.60 L311.78,134.13 L311.95,133.67 L311.86,133.22 L311.52,132.80 L310.93,132.41 L310.10,132.05 L309.05,131.74 L307.79,131.48 L306.34,131.27 L304.73,131.12 L302.99,131.03 L301.15,131.00 L299.23,131.03 L297.28,131.12 L295.32,131.27 L293.39,131.48 L291.52,131.74 L289.74,132.05 L288.08,132.41 L286.58,132.80 L285.25,133.22 L284.13,133.67 L283.22,134.13 L282.55,134.60 L282.12,135.07 L281.95,135.53 L282.04,135.98 L282.38,136.40 L282.97,136.79 L283.80,137.15 L284.85,137.46 L286.11,137.72 L287.56,137.93 L289.17,138.08 L290.91,138.17 L292.75,138.20 L294.67,138.17 L296.62,138.08 L298.58,137.93 L300.51,137.72 L302.38,137.46 L304.16,137.15 L305.82,136.79 L307.32,136.40 L308.65,135.98 L309.77,135.53 L310.68,135.07 L311.35,134.60Z" fill="none" stroke="#fff" stroke-opacity="0.13" stroke-width="0.8"/>
<path d="M311.15,338.80 L311.28,338.34 L311.66,337.87 L312.29,337.40 L313.16,336.94 L314.25,336.49 L315.54,336.06 L317.02,335.67 L318.65,335.31 L320.41,334.99 L322.27,334.72 L324.19,334.50 L326.15,334.34 L328.11,334.24 L330.03,334.20 L331.89,334.22 L333.65,334.30 L335.28,334.44 L336.76,334.64 L338.05,334.89 L339.14,335.19 L340.01,335.54 L340.64,335.93 L341.02,336.34 L341.15,336.79 L341.15,466.09 L341.02,466.55 L340.64,467.02 L340.01,467.49 L339.14,467.96 L338.05,468.40 L336.76,468.83 L335.28,469.23 L333.65,469.59 L331.89,469.91 L330.03,470.18 L328.11,470.39 L326.15,470.56 L324.19,470.66 L322.27,470.70 L320.41,470.68 L318.65,470.60 L317.02,470.46 L315.54,470.26 L314.25,470.00 L313.16,469.70 L312.29,469.35 L311.66,468.97 L311.28,468.55 L311.15,468.11Z" fill="url(#g-sunset)"/>
<path d="M311.15,338.80 L311.28,338.34 L311.66,337.87 L312.29,337.40 L313.16,336.94 L314.25,336.49 L315.54,336.06 L317.02,335.67 L318.65,335.31 L320.41,334.99 L322.27,334.72 L324.19,334.50 L326.15,334.34 L328.11,334.24 L330.03,334.20 L331.89,334.22 L333.65,334.30 L335.28,334.44 L336.76,334.64 L338.05,334.89 L339.14,335.19 L340.01,335.54 L340.64,335.93 L341.02,336.34 L341.15,336.79 L341.15,466.09 L341.02,466.55 L340.64,467.02 L340.01,467.49 L339.14,467.96 L338.05,468.40 L336.76,468.83 L335.28,469.23 L333.65,469.59 L331.89,469.91 L330.03,470.18 L328.11,470.39 L326.15,470.56 L324.19,470.66 L322.27,470.70 L320.41,470.68 L318.65,470.60 L317.02,470.46 L315.54,470.26 L314.25,470.00 L313.16,469.70 L312.29,469.35 L311.66,468.97 L311.28,468.55 L311.15,468.11Z" fill="url(#shade)"/>
<clipPath id="c06"><path d="M340.55,337.79 L340.98,337.32 L341.15,336.86 L341.06,336.42 L340.72,335.99 L340.13,335.60 L339.30,335.25 L338.25,334.94 L336.99,334.68 L335.54,334.47 L333.93,334.32 L332.19,334.23 L330.35,334.19 L328.43,334.23 L326.48,334.32 L324.52,334.47 L322.59,334.68 L320.72,334.94 L318.94,335.25 L317.28,335.60 L315.78,335.99 L314.45,336.42 L313.33,336.86 L312.42,337.32 L311.75,337.79 L311.32,338.26 L311.15,338.73 L311.24,339.17 L311.58,339.59 L312.17,339.99 L313.00,340.34 L314.05,340.65 L315.31,340.91 L316.76,341.12 L318.37,341.27 L320.11,341.36 L321.95,341.39 L323.87,341.36 L325.82,341.27 L327.78,341.12 L329.71,340.91 L331.58,340.65 L333.36,340.34 L335.02,339.99 L336.52,339.59 L337.85,339.17 L338.97,338.73 L339.88,338.26 L340.55,337.79Z"/></clipPath>
<g clip-path="url(#c06)"><path d="M311.15,338.80 L311.28,338.34 L311.66,337.87 L312.29,337.40 L313.16,336.94 L314.25,336.49 L315.54,336.06 L317.02,335.67 L318.65,335.31 L320.41,334.99 L322.27,334.72 L324.19,334.50 L326.15,334.34 L328.11,334.24 L330.03,334.20 L331.89,334.22 L333.65,334.30 L335.28,334.44 L336.76,334.64 L338.05,334.89 L339.14,335.19 L340.01,335.54 L340.64,335.93 L341.02,336.34 L341.15,336.79 L341.15,466.09 L341.02,466.55 L340.64,467.02 L340.01,467.49 L339.14,467.96 L338.05,468.40 L336.76,468.83 L335.28,469.23 L333.65,469.59 L331.89,469.91 L330.03,470.18 L328.11,470.39 L326.15,470.56 L324.19,470.66 L322.27,470.70 L320.41,470.68 L318.65,470.60 L317.02,470.46 L315.54,470.26 L314.25,470.00 L313.16,469.70 L312.29,469.35 L311.66,468.97 L311.28,468.55 L311.15,468.11Z" fill="url(#g-sunset)"/><path d="M340.55,337.79 L340.98,337.32 L341.15,336.86 L341.06,336.42 L340.72,335.99 L340.13,335.60 L339.30,335.25 L338.25,334.94 L336.99,334.68 L335.54,334.47 L333.93,334.32 L332.19,334.23 L330.35,334.19 L328.43,334.23 L326.48,334.32 L324.52,334.47 L322.59,334.68 L320.72,334.94 L318.94,335.25 L317.28,335.60 L315.78,335.99 L314.45,336.42 L313.33,336.86 L312.42,337.32 L311.75,337.79 L311.32,338.26 L311.15,338.73 L311.24,339.17 L311.58,339.59 L312.17,339.99 L313.00,340.34 L314.05,340.65 L315.31,340.91 L316.76,341.12 L318.37,341.27 L320.11,341.36 L321.95,341.39 L323.87,341.36 L325.82,341.27 L327.78,341.12 L329.71,340.91 L331.58,340.65 L333.36,340.34 L335.02,339.99 L336.52,339.59 L337.85,339.17 L338.97,338.73 L339.88,338.26 L340.55,337.79Z" fill="url(#topshade)" opacity="1"/></g>
<path d="M340.55,337.79 L340.98,337.32 L341.15,336.86 L341.06,336.42 L340.72,335.99 L340.13,335.60 L339.30,335.25 L338.25,334.94 L336.99,334.68 L335.54,334.47 L333.93,334.32 L332.19,334.23 L330.35,334.19 L328.43,334.23 L326.48,334.32 L324.52,334.47 L322.59,334.68 L320.72,334.94 L318.94,335.25 L317.28,335.60 L315.78,335.99 L314.45,336.42 L313.33,336.86 L312.42,337.32 L311.75,337.79 L311.32,338.26 L311.15,338.73 L311.24,339.17 L311.58,339.59 L312.17,339.99 L313.00,340.34 L314.05,340.65 L315.31,340.91 L316.76,341.12 L318.37,341.27 L320.11,341.36 L321.95,341.39 L323.87,341.36 L325.82,341.27 L327.78,341.12 L329.71,340.91 L331.58,340.65 L333.36,340.34 L335.02,339.99 L336.52,339.59 L337.85,339.17 L338.97,338.73 L339.88,338.26 L340.55,337.79Z" fill="none" stroke="#fff" stroke-opacity="0.13" stroke-width="0.8"/>
<path d="M340.35,449.64 L340.48,449.18 L340.86,448.71 L341.49,448.24 L342.36,447.77 L343.45,447.32 L344.74,446.90 L346.22,446.50 L347.85,446.14 L349.61,445.82 L351.47,445.55 L353.39,445.33 L355.35,445.17 L357.31,445.07 L359.23,445.03 L361.09,445.05 L362.85,445.13 L364.48,445.27 L365.96,445.47 L367.25,445.72 L368.34,446.03 L369.21,446.37 L369.84,446.76 L370.22,447.18 L370.35,447.62 L370.35,466.09 L370.22,466.55 L369.84,467.02 L369.21,467.49 L368.34,467.96 L367.25,468.40 L365.96,468.83 L364.48,469.23 L362.85,469.59 L361.09,469.91 L359.23,470.18 L357.31,470.39 L355.35,470.56 L353.39,470.66 L351.47,470.70 L349.61,470.68 L347.85,470.60 L346.22,470.46 L344.74,470.26 L343.45,470.00 L342.36,469.70 L341.49,469.35 L340.86,468.97 L340.48,468.55 L340.35,468.11Z" fill="url(#g-benz)"/>
<path d="M340.35,449.64 L340.48,449.18 L340.86,448.71 L341.49,448.24 L342.36,447.77 L343.45,447.32 L344.74,446.90 L346.22,446.50 L347.85,446.14 L349.61,445.82 L351.47,445.55 L353.39,445.33 L355.35,445.17 L357.31,445.07 L359.23,445.03 L361.09,445.05 L362.85,445.13 L364.48,445.27 L365.96,445.47 L367.25,445.72 L368.34,446.03 L369.21,446.37 L369.84,446.76 L370.22,447.18 L370.35,447.62 L370.35,466.09 L370.22,466.55 L369.84,467.02 L369.21,467.49 L368.34,467.96 L367.25,468.40 L365.96,468.83 L364.48,469.23 L362.85,469.59 L361.09,469.91 L359.23,470.18 L357.31,470.39 L355.35,470.56 L353.39,470.66 L351.47,470.70 L349.61,470.68 L347.85,470.60 L346.22,470.46 L344.74,470.26 L343.45,470.00 L342.36,469.70 L341.49,469.35 L340.86,468.97 L340.48,468.55 L340.35,468.11Z" fill="url(#shade)"/>
<clipPath id="c07"><path d="M369.75,448.63 L370.18,448.16 L370.35,447.70 L370.26,447.25 L369.92,446.83 L369.33,446.44 L368.50,446.08 L367.45,445.77 L366.19,445.51 L364.74,445.30 L363.13,445.15 L361.39,445.06 L359.55,445.03 L357.63,445.06 L355.68,445.15 L353.72,445.30 L351.79,445.51 L349.92,445.77 L348.14,446.08 L346.48,446.44 L344.98,446.83 L343.65,447.25 L342.53,447.70 L341.62,448.16 L340.95,448.63 L340.52,449.10 L340.35,449.56 L340.44,450.01 L340.78,450.43 L341.37,450.82 L342.20,451.17 L343.25,451.48 L344.51,451.75 L345.96,451.95 L347.57,452.11 L349.31,452.20 L351.15,452.23 L353.07,452.20 L355.02,452.11 L356.98,451.95 L358.91,451.75 L360.78,451.48 L362.56,451.17 L364.22,450.82 L365.72,450.43 L367.05,450.01 L368.17,449.56 L369.08,449.10 L369.75,448.63Z"/></clipPath>
<g clip-path="url(#c07)"><path d="M340.35,449.64 L340.48,449.18 L340.86,448.71 L341.49,448.24 L342.36,447.77 L343.45,447.32 L344.74,446.90 L346.22,446.50 L347.85,446.14 L349.61,445.82 L351.47,445.55 L353.39,445.33 L355.35,445.17 L357.31,445.07 L359.23,445.03 L361.09,445.05 L362.85,445.13 L364.48,445.27 L365.96,445.47 L367.25,445.72 L368.34,446.03 L369.21,446.37 L369.84,446.76 L370.22,447.18 L370.35,447.62 L370.35,466.09 L370.22,466.55 L369.84,467.02 L369.21,467.49 L368.34,467.96 L367.25,468.40 L365.96,468.83 L364.48,469.23 L362.85,469.59 L361.09,469.91 L359.23,470.18 L357.31,470.39 L355.35,470.56 L353.39,470.66 L351.47,470.70 L349.61,470.68 L347.85,470.60 L346.22,470.46 L344.74,470.26 L343.45,470.00 L342.36,469.70 L341.49,469.35 L340.86,468.97 L340.48,468.55 L340.35,468.11Z" fill="url(#g-benz)"/><path d="M369.75,448.63 L370.18,448.16 L370.35,447.70 L370.26,447.25 L369.92,446.83 L369.33,446.44 L368.50,446.08 L367.45,445.77 L366.19,445.51 L364.74,445.30 L363.13,445.15 L361.39,445.06 L359.55,445.03 L357.63,445.06 L355.68,445.15 L353.72,445.30 L351.79,445.51 L349.92,445.77 L348.14,446.08 L346.48,446.44 L344.98,446.83 L343.65,447.25 L342.53,447.70 L341.62,448.16 L340.95,448.63 L340.52,449.10 L340.35,449.56 L340.44,450.01 L340.78,450.43 L341.37,450.82 L342.20,451.17 L343.25,451.48 L344.51,451.75 L345.96,451.95 L347.57,452.11 L349.31,452.20 L351.15,452.23 L353.07,452.20 L355.02,452.11 L356.98,451.95 L358.91,451.75 L360.78,451.48 L362.56,451.17 L364.22,450.82 L365.72,450.43 L367.05,450.01 L368.17,449.56 L369.08,449.10 L369.75,448.63Z" fill="url(#topshade)" opacity="0.4"/></g>
<path d="M369.75,448.63 L370.18,448.16 L370.35,447.70 L370.26,447.25 L369.92,446.83 L369.33,446.44 L368.50,446.08 L367.45,445.77 L366.19,445.51 L364.74,445.30 L363.13,445.15 L361.39,445.06 L359.55,445.03 L357.63,445.06 L355.68,445.15 L353.72,445.30 L351.79,445.51 L349.92,445.77 L348.14,446.08 L346.48,446.44 L344.98,446.83 L343.65,447.25 L342.53,447.70 L341.62,448.16 L340.95,448.63 L340.52,449.10 L340.35,449.56 L340.44,450.01 L340.78,450.43 L341.37,450.82 L342.20,451.17 L343.25,451.48 L344.51,451.75 L345.96,451.95 L347.57,452.11 L349.31,452.20 L351.15,452.23 L353.07,452.20 L355.02,452.11 L356.98,451.95 L358.91,451.75 L360.78,451.48 L362.56,451.17 L364.22,450.82 L365.72,450.43 L367.05,450.01 L368.17,449.56 L369.08,449.10 L369.75,448.63Z" fill="none" stroke="#fff" stroke-opacity="0.13" stroke-width="0.8"/>
<path d="M385.45,191.02 L385.58,190.56 L385.96,190.10 L386.59,189.63 L387.46,189.16 L388.55,188.71 L389.84,188.29 L391.32,187.89 L392.95,187.53 L394.71,187.21 L396.57,186.94 L398.49,186.72 L400.45,186.56 L402.41,186.46 L404.33,186.42 L406.19,186.44 L407.95,186.52 L409.58,186.66 L411.06,186.86 L412.35,187.11 L413.44,187.42 L414.31,187.76 L414.94,188.15 L415.32,188.57 L415.45,189.01 L415.45,466.09 L415.32,466.55 L414.94,467.02 L414.31,467.49 L413.44,467.96 L412.35,468.40 L411.06,468.83 L409.58,469.23 L407.95,469.59 L406.19,469.91 L404.33,470.18 L402.41,470.39 L400.45,470.56 L398.49,470.66 L396.57,470.70 L394.71,470.68 L392.95,470.60 L391.32,470.46 L389.84,470.26 L388.55,470.00 L387.46,469.70 L386.59,469.35 L385.96,468.97 L385.58,468.55 L385.45,468.11Z" fill="url(#g-peacock)"/>
<path d="M385.45,191.02 L385.58,190.56 L385.96,190.10 L386.59,189.63 L387.46,189.16 L388.55,188.71 L389.84,188.29 L391.32,187.89 L392.95,187.53 L394.71,187.21 L396.57,186.94 L398.49,186.72 L400.45,186.56 L402.41,186.46 L404.33,186.42 L406.19,186.44 L407.95,186.52 L409.58,186.66 L411.06,186.86 L412.35,187.11 L413.44,187.42 L414.31,187.76 L414.94,188.15 L415.32,188.57 L415.45,189.01 L415.45,466.09 L415.32,466.55 L414.94,467.02 L414.31,467.49 L413.44,467.96 L412.35,468.40 L411.06,468.83 L409.58,469.23 L407.95,469.59 L406.19,469.91 L404.33,470.18 L402.41,470.39 L400.45,470.56 L398.49,470.66 L396.57,470.70 L394.71,470.68 L392.95,470.60 L391.32,470.46 L389.84,470.26 L388.55,470.00 L387.46,469.70 L386.59,469.35 L385.96,468.97 L385.58,468.55 L385.45,468.11Z" fill="url(#shade)"/>
<clipPath id="c10"><path d="M414.85,190.02 L415.28,189.55 L415.45,189.08 L415.36,188.64 L415.02,188.22 L414.43,187.83 L413.60,187.47 L412.55,187.16 L411.29,186.90 L409.84,186.69 L408.23,186.54 L406.49,186.45 L404.65,186.42 L402.73,186.45 L400.78,186.54 L398.82,186.69 L396.89,186.90 L395.02,187.16 L393.24,187.47 L391.58,187.83 L390.08,188.22 L388.75,188.64 L387.63,189.08 L386.72,189.55 L386.05,190.02 L385.62,190.49 L385.45,190.95 L385.54,191.39 L385.88,191.82 L386.47,192.21 L387.30,192.56 L388.35,192.87 L389.61,193.13 L391.06,193.34 L392.67,193.49 L394.41,193.59 L396.25,193.62 L398.17,193.59 L400.12,193.49 L402.08,193.34 L404.01,193.13 L405.88,192.87 L407.66,192.56 L409.32,192.21 L410.82,191.82 L412.15,191.39 L413.27,190.95 L414.18,190.49 L414.85,190.02Z"/></clipPath>
<g clip-path="url(#c10)"><path d="M385.45,191.02 L385.58,190.56 L385.96,190.10 L386.59,189.63 L387.46,189.16 L388.55,188.71 L389.84,188.29 L391.32,187.89 L392.95,187.53 L394.71,187.21 L396.57,186.94 L398.49,186.72 L400.45,186.56 L402.41,186.46 L404.33,186.42 L406.19,186.44 L407.95,186.52 L409.58,186.66 L411.06,186.86 L412.35,187.11 L413.44,187.42 L414.31,187.76 L414.94,188.15 L415.32,188.57 L415.45,189.01 L415.45,466.09 L415.32,466.55 L414.94,467.02 L414.31,467.49 L413.44,467.96 L412.35,468.40 L411.06,468.83 L409.58,469.23 L407.95,469.59 L406.19,469.91 L404.33,470.18 L402.41,470.39 L400.45,470.56 L398.49,470.66 L396.57,470.70 L394.71,470.68 L392.95,470.60 L391.32,470.46 L389.84,470.26 L388.55,470.00 L387.46,469.70 L386.59,469.35 L385.96,468.97 L385.58,468.55 L385.45,468.11Z" fill="url(#g-peacock)"/><path d="M414.85,190.02 L415.28,189.55 L415.45,189.08 L415.36,188.64 L415.02,188.22 L414.43,187.83 L413.60,187.47 L412.55,187.16 L411.29,186.90 L409.84,186.69 L408.23,186.54 L406.49,186.45 L404.65,186.42 L402.73,186.45 L400.78,186.54 L398.82,186.69 L396.89,186.90 L395.02,187.16 L393.24,187.47 L391.58,187.83 L390.08,188.22 L388.75,188.64 L387.63,189.08 L386.72,189.55 L386.05,190.02 L385.62,190.49 L385.45,190.95 L385.54,191.39 L385.88,191.82 L386.47,192.21 L387.30,192.56 L388.35,192.87 L389.61,193.13 L391.06,193.34 L392.67,193.49 L394.41,193.59 L396.25,193.62 L398.17,193.59 L400.12,193.49 L402.08,193.34 L404.01,193.13 L405.88,192.87 L407.66,192.56 L409.32,192.21 L410.82,191.82 L412.15,191.39 L413.27,190.95 L414.18,190.49 L414.85,190.02Z" fill="url(#topshade)" opacity="1"/></g>
<path d="M414.85,190.02 L415.28,189.55 L415.45,189.08 L415.36,188.64 L415.02,188.22 L414.43,187.83 L413.60,187.47 L412.55,187.16 L411.29,186.90 L409.84,186.69 L408.23,186.54 L406.49,186.45 L404.65,186.42 L402.73,186.45 L400.78,186.54 L398.82,186.69 L396.89,186.90 L395.02,187.16 L393.24,187.47 L391.58,187.83 L390.08,188.22 L388.75,188.64 L387.63,189.08 L386.72,189.55 L386.05,190.02 L385.62,190.49 L385.45,190.95 L385.54,191.39 L385.88,191.82 L386.47,192.21 L387.30,192.56 L388.35,192.87 L389.61,193.13 L391.06,193.34 L392.67,193.49 L394.41,193.59 L396.25,193.62 L398.17,193.59 L400.12,193.49 L402.08,193.34 L404.01,193.13 L405.88,192.87 L407.66,192.56 L409.32,192.21 L410.82,191.82 L412.15,191.39 L413.27,190.95 L414.18,190.49 L414.85,190.02Z" fill="none" stroke="#fff" stroke-opacity="0.13" stroke-width="0.8"/>
<path d="M414.65,431.16 L414.78,430.70 L415.16,430.23 L415.79,429.76 L416.66,429.30 L417.75,428.85 L419.04,428.42 L420.52,428.03 L422.15,427.67 L423.91,427.35 L425.77,427.08 L427.69,426.86 L429.65,426.70 L431.61,426.60 L433.53,426.56 L435.39,426.58 L437.15,426.66 L438.78,426.80 L440.26,427.00 L441.55,427.25 L442.64,427.55 L443.51,427.90 L444.14,428.29 L444.52,428.71 L444.65,429.15 L444.65,466.09 L444.52,466.55 L444.14,467.02 L443.51,467.49 L442.64,467.96 L441.55,468.40 L440.26,468.83 L438.78,469.23 L437.15,469.59 L435.39,469.91 L433.53,470.18 L431.61,470.39 L429.65,470.56 L427.69,470.66 L425.77,470.70 L423.91,470.68 L422.15,470.60 L420.52,470.46 L419.04,470.26 L417.75,470.00 L416.66,469.70 L415.79,469.35 L415.16,468.97 L414.78,468.55 L414.65,468.11Z" fill="url(#g-fog)"/>
<path d="M414.65,431.16 L414.78,430.70 L415.16,430.23 L415.79,429.76 L416.66,429.30 L417.75,428.85 L419.04,428.42 L420.52,428.03 L422.15,427.67 L423.91,427.35 L425.77,427.08 L427.69,426.86 L429.65,426.70 L431.61,426.60 L433.53,426.56 L435.39,426.58 L437.15,426.66 L438.78,426.80 L440.26,427.00 L441.55,427.25 L442.64,427.55 L443.51,427.90 L444.14,428.29 L444.52,428.71 L444.65,429.15 L444.65,466.09 L444.52,466.55 L444.14,467.02 L443.51,467.49 L442.64,467.96 L441.55,468.40 L440.26,468.83 L438.78,469.23 L437.15,469.59 L435.39,469.91 L433.53,470.18 L431.61,470.39 L429.65,470.56 L427.69,470.66 L425.77,470.70 L423.91,470.68 L422.15,470.60 L420.52,470.46 L419.04,470.26 L417.75,470.00 L416.66,469.70 L415.79,469.35 L415.16,468.97 L414.78,468.55 L414.65,468.11Z" fill="url(#shade)"/>
<clipPath id="c11"><path d="M444.05,430.16 L444.48,429.69 L444.65,429.22 L444.56,428.78 L444.22,428.36 L443.63,427.96 L442.80,427.61 L441.75,427.30 L440.49,427.04 L439.04,426.83 L437.43,426.68 L435.69,426.59 L433.85,426.56 L431.93,426.59 L429.98,426.68 L428.02,426.83 L426.09,427.04 L424.22,427.30 L422.44,427.61 L420.78,427.96 L419.28,428.36 L417.95,428.78 L416.83,429.22 L415.92,429.69 L415.25,430.16 L414.82,430.63 L414.65,431.09 L414.74,431.53 L415.08,431.96 L415.67,432.35 L416.50,432.70 L417.55,433.01 L418.81,433.27 L420.26,433.48 L421.87,433.63 L423.61,433.72 L425.45,433.76 L427.37,433.72 L429.32,433.63 L431.28,433.48 L433.21,433.27 L435.08,433.01 L436.86,432.70 L438.52,432.35 L440.02,431.96 L441.35,431.53 L442.47,431.09 L443.38,430.63 L444.05,430.16Z"/></clipPath>
<g clip-path="url(#c11)"><path d="M414.65,431.16 L414.78,430.70 L415.16,430.23 L415.79,429.76 L416.66,429.30 L417.75,428.85 L419.04,428.42 L420.52,428.03 L422.15,427.67 L423.91,427.35 L425.77,427.08 L427.69,426.86 L429.65,426.70 L431.61,426.60 L433.53,426.56 L435.39,426.58 L437.15,426.66 L438.78,426.80 L440.26,427.00 L441.55,427.25 L442.64,427.55 L443.51,427.90 L444.14,428.29 L444.52,428.71 L444.65,429.15 L444.65,466.09 L444.52,466.55 L444.14,467.02 L443.51,467.49 L442.64,467.96 L441.55,468.40 L440.26,468.83 L438.78,469.23 L437.15,469.59 L435.39,469.91 L433.53,470.18 L431.61,470.39 L429.65,470.56 L427.69,470.66 L425.77,470.70 L423.91,470.68 L422.15,470.60 L420.52,470.46 L419.04,470.26 L417.75,470.00 L416.66,469.70 L415.79,469.35 L415.16,468.97 L414.78,468.55 L414.65,468.11Z" fill="url(#g-fog)"/><path d="M444.05,430.16 L444.48,429.69 L444.65,429.22 L444.56,428.78 L444.22,428.36 L443.63,427.96 L442.80,427.61 L441.75,427.30 L440.49,427.04 L439.04,426.83 L437.43,426.68 L435.69,426.59 L433.85,426.56 L431.93,426.59 L429.98,426.68 L428.02,426.83 L426.09,427.04 L424.22,427.30 L422.44,427.61 L420.78,427.96 L419.28,428.36 L417.95,428.78 L416.83,429.22 L415.92,429.69 L415.25,430.16 L414.82,430.63 L414.65,431.09 L414.74,431.53 L415.08,431.96 L415.67,432.35 L416.50,432.70 L417.55,433.01 L418.81,433.27 L420.26,433.48 L421.87,433.63 L423.61,433.72 L425.45,433.76 L427.37,433.72 L429.32,433.63 L431.28,433.48 L433.21,433.27 L435.08,433.01 L436.86,432.70 L438.52,432.35 L440.02,431.96 L441.35,431.53 L442.47,431.09 L443.38,430.63 L444.05,430.16Z" fill="url(#topshade)" opacity="0.55"/></g>
<path d="M444.05,430.16 L444.48,429.69 L444.65,429.22 L444.56,428.78 L444.22,428.36 L443.63,427.96 L442.80,427.61 L441.75,427.30 L440.49,427.04 L439.04,426.83 L437.43,426.68 L435.69,426.59 L433.85,426.56 L431.93,426.59 L429.98,426.68 L428.02,426.83 L426.09,427.04 L424.22,427.30 L422.44,427.61 L420.78,427.96 L419.28,428.36 L417.95,428.78 L416.83,429.22 L415.92,429.69 L415.25,430.16 L414.82,430.63 L414.65,431.09 L414.74,431.53 L415.08,431.96 L415.67,432.35 L416.50,432.70 L417.55,433.01 L418.81,433.27 L420.26,433.48 L421.87,433.63 L423.61,433.72 L425.45,433.76 L427.37,433.72 L429.32,433.63 L431.28,433.48 L433.21,433.27 L435.08,433.01 L436.86,432.70 L438.52,432.35 L440.02,431.96 L441.35,431.53 L442.47,431.09 L443.38,430.63 L444.05,430.16Z" fill="none" stroke="#fff" stroke-opacity="0.13" stroke-width="0.8"/>
<path d="M443.85,394.22 L443.98,393.76 L444.36,393.29 L444.99,392.82 L445.86,392.36 L446.95,391.91 L448.24,391.48 L449.72,391.08 L451.35,390.72 L453.11,390.40 L454.97,390.13 L456.89,389.92 L458.85,389.76 L460.81,389.65 L462.73,389.61 L464.59,389.63 L466.35,389.71 L467.98,389.86 L469.46,390.05 L470.75,390.31 L471.84,390.61 L472.71,390.96 L473.34,391.34 L473.72,391.76 L473.85,392.20 L473.85,466.09 L473.72,466.55 L473.34,467.02 L472.71,467.49 L471.84,467.96 L470.75,468.40 L469.46,468.83 L467.98,469.23 L466.35,469.59 L464.59,469.91 L462.73,470.18 L460.81,470.39 L458.85,470.56 L456.89,470.66 L454.97,470.70 L453.11,470.68 L451.35,470.60 L449.72,470.46 L448.24,470.26 L446.95,470.00 L445.86,469.70 L444.99,469.35 L444.36,468.97 L443.98,468.55 L443.85,468.11Z" fill="url(#g-wheat)"/>
<path d="M443.85,394.22 L443.98,393.76 L444.36,393.29 L444.99,392.82 L445.86,392.36 L446.95,391.91 L448.24,391.48 L449.72,391.08 L451.35,390.72 L453.11,390.40 L454.97,390.13 L456.89,389.92 L458.85,389.76 L460.81,389.65 L462.73,389.61 L464.59,389.63 L466.35,389.71 L467.98,389.86 L469.46,390.05 L470.75,390.31 L471.84,390.61 L472.71,390.96 L473.34,391.34 L473.72,391.76 L473.85,392.20 L473.85,466.09 L473.72,466.55 L473.34,467.02 L472.71,467.49 L471.84,467.96 L470.75,468.40 L469.46,468.83 L467.98,469.23 L466.35,469.59 L464.59,469.91 L462.73,470.18 L460.81,470.39 L458.85,470.56 L456.89,470.66 L454.97,470.70 L453.11,470.68 L451.35,470.60 L449.72,470.46 L448.24,470.26 L446.95,470.00 L445.86,469.70 L444.99,469.35 L444.36,468.97 L443.98,468.55 L443.85,468.11Z" fill="url(#shade)"/>
<clipPath id="c12"><path d="M473.25,393.21 L473.68,392.74 L473.85,392.28 L473.76,391.83 L473.42,391.41 L472.83,391.02 L472.00,390.67 L470.95,390.36 L469.69,390.09 L468.24,389.89 L466.63,389.73 L464.89,389.64 L463.05,389.61 L461.13,389.64 L459.18,389.73 L457.22,389.89 L455.29,390.09 L453.42,390.36 L451.64,390.67 L449.98,391.02 L448.48,391.41 L447.15,391.83 L446.03,392.28 L445.12,392.74 L444.45,393.21 L444.02,393.68 L443.85,394.14 L443.94,394.59 L444.28,395.01 L444.87,395.40 L445.70,395.76 L446.75,396.07 L448.01,396.33 L449.46,396.54 L451.07,396.69 L452.81,396.78 L454.65,396.81 L456.57,396.78 L458.52,396.69 L460.48,396.54 L462.41,396.33 L464.28,396.07 L466.06,395.76 L467.72,395.40 L469.22,395.01 L470.55,394.59 L471.67,394.14 L472.58,393.68 L473.25,393.21Z"/></clipPath>
<g clip-path="url(#c12)"><path d="M443.85,394.22 L443.98,393.76 L444.36,393.29 L444.99,392.82 L445.86,392.36 L446.95,391.91 L448.24,391.48 L449.72,391.08 L451.35,390.72 L453.11,390.40 L454.97,390.13 L456.89,389.92 L458.85,389.76 L460.81,389.65 L462.73,389.61 L464.59,389.63 L466.35,389.71 L467.98,389.86 L469.46,390.05 L470.75,390.31 L471.84,390.61 L472.71,390.96 L473.34,391.34 L473.72,391.76 L473.85,392.20 L473.85,466.09 L473.72,466.55 L473.34,467.02 L472.71,467.49 L471.84,467.96 L470.75,468.40 L469.46,468.83 L467.98,469.23 L466.35,469.59 L464.59,469.91 L462.73,470.18 L460.81,470.39 L458.85,470.56 L456.89,470.66 L454.97,470.70 L453.11,470.68 L451.35,470.60 L449.72,470.46 L448.24,470.26 L446.95,470.00 L445.86,469.70 L444.99,469.35 L444.36,468.97 L443.98,468.55 L443.85,468.11Z" fill="url(#g-wheat)"/><path d="M473.25,393.21 L473.68,392.74 L473.85,392.28 L473.76,391.83 L473.42,391.41 L472.83,391.02 L472.00,390.67 L470.95,390.36 L469.69,390.09 L468.24,389.89 L466.63,389.73 L464.89,389.64 L463.05,389.61 L461.13,389.64 L459.18,389.73 L457.22,389.89 L455.29,390.09 L453.42,390.36 L451.64,390.67 L449.98,391.02 L448.48,391.41 L447.15,391.83 L446.03,392.28 L445.12,392.74 L444.45,393.21 L444.02,393.68 L443.85,394.14 L443.94,394.59 L444.28,395.01 L444.87,395.40 L445.70,395.76 L446.75,396.07 L448.01,396.33 L449.46,396.54 L451.07,396.69 L452.81,396.78 L454.65,396.81 L456.57,396.78 L458.52,396.69 L460.48,396.54 L462.41,396.33 L464.28,396.07 L466.06,395.76 L467.72,395.40 L469.22,395.01 L470.55,394.59 L471.67,394.14 L472.58,393.68 L473.25,393.21Z" fill="url(#topshade)" opacity="0.8"/></g>
<path d="M473.25,393.21 L473.68,392.74 L473.85,392.28 L473.76,391.83 L473.42,391.41 L472.83,391.02 L472.00,390.67 L470.95,390.36 L469.69,390.09 L468.24,389.89 L466.63,389.73 L464.89,389.64 L463.05,389.61 L461.13,389.64 L459.18,389.73 L457.22,389.89 L455.29,390.09 L453.42,390.36 L451.64,390.67 L449.98,391.02 L448.48,391.41 L447.15,391.83 L446.03,392.28 L445.12,392.74 L444.45,393.21 L444.02,393.68 L443.85,394.14 L443.94,394.59 L444.28,395.01 L444.87,395.40 L445.70,395.76 L446.75,396.07 L448.01,396.33 L449.46,396.54 L451.07,396.69 L452.81,396.78 L454.65,396.81 L456.57,396.78 L458.52,396.69 L460.48,396.54 L462.41,396.33 L464.28,396.07 L466.06,395.76 L467.72,395.40 L469.22,395.01 L470.55,394.59 L471.67,394.14 L472.58,393.68 L473.25,393.21Z" fill="none" stroke="#fff" stroke-opacity="0.13" stroke-width="0.8"/>
<path d="M473.05,320.33 L473.18,319.87 L473.56,319.40 L474.19,318.93 L475.06,318.47 L476.15,318.02 L477.44,317.59 L478.92,317.19 L480.55,316.83 L482.31,316.52 L484.17,316.24 L486.09,316.03 L488.05,315.87 L490.01,315.76 L491.93,315.72 L493.79,315.74 L495.55,315.83 L497.18,315.97 L498.66,316.17 L499.95,316.42 L501.04,316.72 L501.91,317.07 L502.54,317.45 L502.92,317.87 L503.05,318.31 L503.05,466.09 L502.92,466.55 L502.54,467.02 L501.91,467.49 L501.04,467.96 L499.95,468.40 L498.66,468.83 L497.18,469.23 L495.55,469.59 L493.79,469.91 L491.93,470.18 L490.01,470.39 L488.05,470.56 L486.09,470.66 L484.17,470.70 L482.31,470.68 L480.55,470.60 L478.92,470.46 L477.44,470.26 L476.15,470.00 L475.06,469.70 L474.19,469.35 L473.56,468.97 L473.18,468.55 L473.05,468.11Z" fill="url(#g-ocean)"/>
<path d="M473.05,320.33 L473.18,319.87 L473.56,319.40 L474.19,318.93 L475.06,318.47 L476.15,318.02 L477.44,317.59 L478.92,317.19 L480.55,316.83 L482.31,316.52 L484.17,316.24 L486.09,316.03 L488.05,315.87 L490.01,315.76 L491.93,315.72 L493.79,315.74 L495.55,315.83 L497.18,315.97 L498.66,316.17 L499.95,316.42 L501.04,316.72 L501.91,317.07 L502.54,317.45 L502.92,317.87 L503.05,318.31 L503.05,466.09 L502.92,466.55 L502.54,467.02 L501.91,467.49 L501.04,467.96 L499.95,468.40 L498.66,468.83 L497.18,469.23 L495.55,469.59 L493.79,469.91 L491.93,470.18 L490.01,470.39 L488.05,470.56 L486.09,470.66 L484.17,470.70 L482.31,470.68 L480.55,470.60 L478.92,470.46 L477.44,470.26 L476.15,470.00 L475.06,469.70 L474.19,469.35 L473.56,468.97 L473.18,468.55 L473.05,468.11Z" fill="url(#shade)"/>
<clipPath id="c13"><path d="M502.45,319.32 L502.88,318.85 L503.05,318.39 L502.96,317.94 L502.62,317.52 L502.03,317.13 L501.20,316.78 L500.15,316.47 L498.89,316.20 L497.44,316.00 L495.83,315.84 L494.09,315.75 L492.25,315.72 L490.33,315.75 L488.38,315.84 L486.42,316.00 L484.49,316.20 L482.62,316.47 L480.84,316.78 L479.18,317.13 L477.68,317.52 L476.35,317.94 L475.23,318.39 L474.32,318.85 L473.65,319.32 L473.22,319.79 L473.05,320.25 L473.14,320.70 L473.48,321.12 L474.07,321.51 L474.90,321.87 L475.95,322.18 L477.21,322.44 L478.66,322.65 L480.27,322.80 L482.01,322.89 L483.85,322.92 L485.77,322.89 L487.72,322.80 L489.68,322.65 L491.61,322.44 L493.48,322.18 L495.26,321.87 L496.92,321.51 L498.42,321.12 L499.75,320.70 L500.87,320.25 L501.78,319.79 L502.45,319.32Z"/></clipPath>
<g clip-path="url(#c13)"><path d="M473.05,320.33 L473.18,319.87 L473.56,319.40 L474.19,318.93 L475.06,318.47 L476.15,318.02 L477.44,317.59 L478.92,317.19 L480.55,316.83 L482.31,316.52 L484.17,316.24 L486.09,316.03 L488.05,315.87 L490.01,315.76 L491.93,315.72 L493.79,315.74 L495.55,315.83 L497.18,315.97 L498.66,316.17 L499.95,316.42 L501.04,316.72 L501.91,317.07 L502.54,317.45 L502.92,317.87 L503.05,318.31 L503.05,466.09 L502.92,466.55 L502.54,467.02 L501.91,467.49 L501.04,467.96 L499.95,468.40 L498.66,468.83 L497.18,469.23 L495.55,469.59 L493.79,469.91 L491.93,470.18 L490.01,470.39 L488.05,470.56 L486.09,470.66 L484.17,470.70 L482.31,470.68 L480.55,470.60 L478.92,470.46 L477.44,470.26 L476.15,470.00 L475.06,469.70 L474.19,469.35 L473.56,468.97 L473.18,468.55 L473.05,468.11Z" fill="url(#g-ocean)"/><path d="M502.45,319.32 L502.88,318.85 L503.05,318.39 L502.96,317.94 L502.62,317.52 L502.03,317.13 L501.20,316.78 L500.15,316.47 L498.89,316.20 L497.44,316.00 L495.83,315.84 L494.09,315.75 L492.25,315.72 L490.33,315.75 L488.38,315.84 L486.42,316.00 L484.49,316.20 L482.62,316.47 L480.84,316.78 L479.18,317.13 L477.68,317.52 L476.35,317.94 L475.23,318.39 L474.32,318.85 L473.65,319.32 L473.22,319.79 L473.05,320.25 L473.14,320.70 L473.48,321.12 L474.07,321.51 L474.90,321.87 L475.95,322.18 L477.21,322.44 L478.66,322.65 L480.27,322.80 L482.01,322.89 L483.85,322.92 L485.77,322.89 L487.72,322.80 L489.68,322.65 L491.61,322.44 L493.48,322.18 L495.26,321.87 L496.92,321.51 L498.42,321.12 L499.75,320.70 L500.87,320.25 L501.78,319.79 L502.45,319.32Z" fill="url(#topshade)" opacity="1"/></g>
<path d="M502.45,319.32 L502.88,318.85 L503.05,318.39 L502.96,317.94 L502.62,317.52 L502.03,317.13 L501.20,316.78 L500.15,316.47 L498.89,316.20 L497.44,316.00 L495.83,315.84 L494.09,315.75 L492.25,315.72 L490.33,315.75 L488.38,315.84 L486.42,316.00 L484.49,316.20 L482.62,316.47 L480.84,316.78 L479.18,317.13 L477.68,317.52 L476.35,317.94 L475.23,318.39 L474.32,318.85 L473.65,319.32 L473.22,319.79 L473.05,320.25 L473.14,320.70 L473.48,321.12 L474.07,321.51 L474.90,321.87 L475.95,322.18 L477.21,322.44 L478.66,322.65 L480.27,322.80 L482.01,322.89 L483.85,322.92 L485.77,322.89 L487.72,322.80 L489.68,322.65 L491.61,322.44 L493.48,322.18 L495.26,321.87 L496.92,321.51 L498.42,321.12 L499.75,320.70 L500.87,320.25 L501.78,319.79 L502.45,319.32Z" fill="none" stroke="#fff" stroke-opacity="0.13" stroke-width="0.8"/>
<path d="M502.25,209.50 L502.38,209.04 L502.76,208.57 L503.39,208.10 L504.26,207.63 L505.35,207.18 L506.64,206.76 L508.12,206.36 L509.75,206.00 L511.51,205.68 L513.37,205.41 L515.29,205.19 L517.25,205.03 L519.21,204.93 L521.13,204.89 L522.99,204.91 L524.75,204.99 L526.38,205.13 L527.86,205.33 L529.15,205.59 L530.24,205.89 L531.11,206.24 L531.74,206.62 L532.12,207.04 L532.25,207.48 L532.25,466.09 L532.12,466.55 L531.74,467.02 L531.11,467.49 L530.24,467.96 L529.15,468.40 L527.86,468.83 L526.38,469.23 L524.75,469.59 L522.99,469.91 L521.13,470.18 L519.21,470.39 L517.25,470.56 L515.29,470.66 L513.37,470.70 L511.51,470.68 L509.75,470.60 L508.12,470.46 L506.64,470.26 L505.35,470.00 L504.26,469.70 L503.39,469.35 L502.76,468.97 L502.38,468.55 L502.25,468.11Z" fill="url(#g-calm)"/>
<path d="M502.25,209.50 L502.38,209.04 L502.76,208.57 L503.39,208.10 L504.26,207.63 L505.35,207.18 L506.64,206.76 L508.12,206.36 L509.75,206.00 L511.51,205.68 L513.37,205.41 L515.29,205.19 L517.25,205.03 L519.21,204.93 L521.13,204.89 L522.99,204.91 L524.75,204.99 L526.38,205.13 L527.86,205.33 L529.15,205.59 L530.24,205.89 L531.11,206.24 L531.74,206.62 L532.12,207.04 L532.25,207.48 L532.25,466.09 L532.12,466.55 L531.74,467.02 L531.11,467.49 L530.24,467.96 L529.15,468.40 L527.86,468.83 L526.38,469.23 L524.75,469.59 L522.99,469.91 L521.13,470.18 L519.21,470.39 L517.25,470.56 L515.29,470.66 L513.37,470.70 L511.51,470.68 L509.75,470.60 L508.12,470.46 L506.64,470.26 L505.35,470.00 L504.26,469.70 L503.39,469.35 L502.76,468.97 L502.38,468.55 L502.25,468.11Z" fill="url(#shade)"/>
<clipPath id="c14"><path d="M531.65,208.49 L532.08,208.02 L532.25,207.56 L532.16,207.11 L531.82,206.69 L531.23,206.30 L530.40,205.94 L529.35,205.63 L528.09,205.37 L526.64,205.16 L525.03,205.01 L523.29,204.92 L521.45,204.89 L519.53,204.92 L517.58,205.01 L515.62,205.16 L513.69,205.37 L511.82,205.63 L510.04,205.94 L508.38,206.30 L506.88,206.69 L505.55,207.11 L504.43,207.56 L503.52,208.02 L502.85,208.49 L502.42,208.96 L502.25,209.42 L502.34,209.87 L502.68,210.29 L503.27,210.68 L504.10,211.03 L505.15,211.34 L506.41,211.61 L507.86,211.81 L509.47,211.97 L511.21,212.06 L513.05,212.09 L514.97,212.06 L516.92,211.97 L518.88,211.81 L520.81,211.61 L522.68,211.34 L524.46,211.03 L526.12,210.68 L527.62,210.29 L528.95,209.87 L530.07,209.42 L530.98,208.96 L531.65,208.49Z"/></clipPath>
<g clip-path="url(#c14)"><path d="M502.25,209.50 L502.38,209.04 L502.76,208.57 L503.39,208.10 L504.26,207.63 L505.35,207.18 L506.64,206.76 L508.12,206.36 L509.75,206.00 L511.51,205.68 L513.37,205.41 L515.29,205.19 L517.25,205.03 L519.21,204.93 L521.13,204.89 L522.99,204.91 L524.75,204.99 L526.38,205.13 L527.86,205.33 L529.15,205.59 L530.24,205.89 L531.11,206.24 L531.74,206.62 L532.12,207.04 L532.25,207.48 L532.25,466.09 L532.12,466.55 L531.74,467.02 L531.11,467.49 L530.24,467.96 L529.15,468.40 L527.86,468.83 L526.38,469.23 L524.75,469.59 L522.99,469.91 L521.13,470.18 L519.21,470.39 L517.25,470.56 L515.29,470.66 L513.37,470.70 L511.51,470.68 L509.75,470.60 L508.12,470.46 L506.64,470.26 L505.35,470.00 L504.26,469.70 L503.39,469.35 L502.76,468.97 L502.38,468.55 L502.25,468.11Z" fill="url(#g-calm)"/><path d="M531.65,208.49 L532.08,208.02 L532.25,207.56 L532.16,207.11 L531.82,206.69 L531.23,206.30 L530.40,205.94 L529.35,205.63 L528.09,205.37 L526.64,205.16 L525.03,205.01 L523.29,204.92 L521.45,204.89 L519.53,204.92 L517.58,205.01 L515.62,205.16 L513.69,205.37 L511.82,205.63 L510.04,205.94 L508.38,206.30 L506.88,206.69 L505.55,207.11 L504.43,207.56 L503.52,208.02 L502.85,208.49 L502.42,208.96 L502.25,209.42 L502.34,209.87 L502.68,210.29 L503.27,210.68 L504.10,211.03 L505.15,211.34 L506.41,211.61 L507.86,211.81 L509.47,211.97 L511.21,212.06 L513.05,212.09 L514.97,212.06 L516.92,211.97 L518.88,211.81 L520.81,211.61 L522.68,211.34 L524.46,211.03 L526.12,210.68 L527.62,210.29 L528.95,209.87 L530.07,209.42 L530.98,208.96 L531.65,208.49Z" fill="url(#topshade)" opacity="1"/></g>
<path d="M531.65,208.49 L532.08,208.02 L532.25,207.56 L532.16,207.11 L531.82,206.69 L531.23,206.30 L530.40,205.94 L529.35,205.63 L528.09,205.37 L526.64,205.16 L525.03,205.01 L523.29,204.92 L521.45,204.89 L519.53,204.92 L517.58,205.01 L515.62,205.16 L513.69,205.37 L511.82,205.63 L510.04,205.94 L508.38,206.30 L506.88,206.69 L505.55,207.11 L504.43,207.56 L503.52,208.02 L502.85,208.49 L502.42,208.96 L502.25,209.42 L502.34,209.87 L502.68,210.29 L503.27,210.68 L504.10,211.03 L505.15,211.34 L506.41,211.61 L507.86,211.81 L509.47,211.97 L511.21,212.06 L513.05,212.09 L514.97,212.06 L516.92,211.97 L518.88,211.81 L520.81,211.61 L522.68,211.34 L524.46,211.03 L526.12,210.68 L527.62,210.29 L528.95,209.87 L530.07,209.42 L530.98,208.96 L531.65,208.49Z" fill="none" stroke="#fff" stroke-opacity="0.13" stroke-width="0.8"/>
<path d="M531.45,154.08 L531.58,153.62 L531.96,153.15 L532.59,152.68 L533.46,152.22 L534.55,151.77 L535.84,151.34 L537.32,150.94 L538.95,150.58 L540.71,150.27 L542.57,149.99 L544.49,149.78 L546.45,149.62 L548.41,149.51 L550.33,149.47 L552.19,149.49 L553.95,149.58 L555.58,149.72 L557.06,149.92 L558.35,150.17 L559.44,150.47 L560.31,150.82 L560.94,151.20 L561.32,151.62 L561.45,152.06 L561.45,466.09 L561.32,466.55 L560.94,467.02 L560.31,467.49 L559.44,467.96 L558.35,468.40 L557.06,468.83 L555.58,469.23 L553.95,469.59 L552.19,469.91 L550.33,470.18 L548.41,470.39 L546.45,470.56 L544.49,470.66 L542.57,470.70 L540.71,470.68 L538.95,470.60 L537.32,470.46 L535.84,470.26 L534.55,470.00 L533.46,469.70 L532.59,469.35 L531.96,468.97 L531.58,468.55 L531.45,468.11Z" fill="url(#g-gold)"/>
<path d="M531.45,154.08 L531.58,153.62 L531.96,153.15 L532.59,152.68 L533.46,152.22 L534.55,151.77 L535.84,151.34 L537.32,150.94 L538.95,150.58 L540.71,150.27 L542.57,149.99 L544.49,149.78 L546.45,149.62 L548.41,149.51 L550.33,149.47 L552.19,149.49 L553.95,149.58 L555.58,149.72 L557.06,149.92 L558.35,150.17 L559.44,150.47 L560.31,150.82 L560.94,151.20 L561.32,151.62 L561.45,152.06 L561.45,466.09 L561.32,466.55 L560.94,467.02 L560.31,467.49 L559.44,467.96 L558.35,468.40 L557.06,468.83 L555.58,469.23 L553.95,469.59 L552.19,469.91 L550.33,470.18 L548.41,470.39 L546.45,470.56 L544.49,470.66 L542.57,470.70 L540.71,470.68 L538.95,470.60 L537.32,470.46 L535.84,470.26 L534.55,470.00 L533.46,469.70 L532.59,469.35 L531.96,468.97 L531.58,468.55 L531.45,468.11Z" fill="url(#shade)"/>
<clipPath id="c15"><path d="M560.85,153.07 L561.28,152.60 L561.45,152.14 L561.36,151.69 L561.02,151.27 L560.43,150.88 L559.60,150.53 L558.55,150.22 L557.29,149.95 L555.84,149.75 L554.23,149.59 L552.49,149.50 L550.65,149.47 L548.73,149.50 L546.78,149.59 L544.82,149.75 L542.89,149.95 L541.02,150.22 L539.24,150.53 L537.58,150.88 L536.08,151.27 L534.75,151.69 L533.63,152.14 L532.72,152.60 L532.05,153.07 L531.62,153.54 L531.45,154.00 L531.54,154.45 L531.88,154.87 L532.47,155.26 L533.30,155.62 L534.35,155.93 L535.61,156.19 L537.06,156.40 L538.67,156.55 L540.41,156.64 L542.25,156.67 L544.17,156.64 L546.12,156.55 L548.08,156.40 L550.01,156.19 L551.88,155.93 L553.66,155.62 L555.32,155.26 L556.82,154.87 L558.15,154.45 L559.27,154.00 L560.18,153.54 L560.85,153.07Z"/></clipPath>
<g clip-path="url(#c15)"><path d="M531.45,154.08 L531.58,153.62 L531.96,153.15 L532.59,152.68 L533.46,152.22 L534.55,151.77 L535.84,151.34 L537.32,150.94 L538.95,150.58 L540.71,150.27 L542.57,149.99 L544.49,149.78 L546.45,149.62 L548.41,149.51 L550.33,149.47 L552.19,149.49 L553.95,149.58 L555.58,149.72 L557.06,149.92 L558.35,150.17 L559.44,150.47 L560.31,150.82 L560.94,151.20 L561.32,151.62 L561.45,152.06 L561.45,466.09 L561.32,466.55 L560.94,467.02 L560.31,467.49 L559.44,467.96 L558.35,468.40 L557.06,468.83 L555.58,469.23 L553.95,469.59 L552.19,469.91 L550.33,470.18 L548.41,470.39 L546.45,470.56 L544.49,470.66 L542.57,470.70 L540.71,470.68 L538.95,470.60 L537.32,470.46 L535.84,470.26 L534.55,470.00 L533.46,469.70 L532.59,469.35 L531.96,468.97 L531.58,468.55 L531.45,468.11Z" fill="url(#g-gold)"/><path d="M560.85,153.07 L561.28,152.60 L561.45,152.14 L561.36,151.69 L561.02,151.27 L560.43,150.88 L559.60,150.53 L558.55,150.22 L557.29,149.95 L555.84,149.75 L554.23,149.59 L552.49,149.50 L550.65,149.47 L548.73,149.50 L546.78,149.59 L544.82,149.75 L542.89,149.95 L541.02,150.22 L539.24,150.53 L537.58,150.88 L536.08,151.27 L534.75,151.69 L533.63,152.14 L532.72,152.60 L532.05,153.07 L531.62,153.54 L531.45,154.00 L531.54,154.45 L531.88,154.87 L532.47,155.26 L533.30,155.62 L534.35,155.93 L535.61,156.19 L537.06,156.40 L538.67,156.55 L540.41,156.64 L542.25,156.67 L544.17,156.64 L546.12,156.55 L548.08,156.40 L550.01,156.19 L551.88,155.93 L553.66,155.62 L555.32,155.26 L556.82,154.87 L558.15,154.45 L559.27,154.00 L560.18,153.54 L560.85,153.07Z" fill="url(#topshade)" opacity="1"/></g>
<path d="M560.85,153.07 L561.28,152.60 L561.45,152.14 L561.36,151.69 L561.02,151.27 L560.43,150.88 L559.60,150.53 L558.55,150.22 L557.29,149.95 L555.84,149.75 L554.23,149.59 L552.49,149.50 L550.65,149.47 L548.73,149.50 L546.78,149.59 L544.82,149.75 L542.89,149.95 L541.02,150.22 L539.24,150.53 L537.58,150.88 L536.08,151.27 L534.75,151.69 L533.63,152.14 L532.72,152.60 L532.05,153.07 L531.62,153.54 L531.45,154.00 L531.54,154.45 L531.88,154.87 L532.47,155.26 L533.30,155.62 L534.35,155.93 L535.61,156.19 L537.06,156.40 L538.67,156.55 L540.41,156.64 L542.25,156.67 L544.17,156.64 L546.12,156.55 L548.08,156.40 L550.01,156.19 L551.88,155.93 L553.66,155.62 L555.32,155.26 L556.82,154.87 L558.15,154.45 L559.27,154.00 L560.18,153.54 L560.85,153.07Z" fill="none" stroke="#fff" stroke-opacity="0.13" stroke-width="0.8"/>
<path d="M560.65,338.80 L560.78,338.34 L561.16,337.87 L561.79,337.40 L562.66,336.94 L563.75,336.49 L565.04,336.06 L566.52,335.67 L568.15,335.31 L569.91,334.99 L571.77,334.72 L573.69,334.50 L575.65,334.34 L577.61,334.24 L579.53,334.20 L581.39,334.22 L583.15,334.30 L584.78,334.44 L586.26,334.64 L587.55,334.89 L588.64,335.19 L589.51,335.54 L590.14,335.93 L590.52,336.34 L590.65,336.79 L590.65,466.09 L590.52,466.55 L590.14,467.02 L589.51,467.49 L588.64,467.96 L587.55,468.40 L586.26,468.83 L584.78,469.23 L583.15,469.59 L581.39,469.91 L579.53,470.18 L577.61,470.39 L575.65,470.56 L573.69,470.66 L571.77,470.70 L569.91,470.68 L568.15,470.60 L566.52,470.46 L565.04,470.26 L563.75,470.00 L562.66,469.70 L561.79,469.35 L561.16,468.97 L560.78,468.55 L560.65,468.11Z" fill="url(#g-sunset)"/>
<path d="M560.65,338.80 L560.78,338.34 L561.16,337.87 L561.79,337.40 L562.66,336.94 L563.75,336.49 L565.04,336.06 L566.52,335.67 L568.15,335.31 L569.91,334.99 L571.77,334.72 L573.69,334.50 L575.65,334.34 L577.61,334.24 L579.53,334.20 L581.39,334.22 L583.15,334.30 L584.78,334.44 L586.26,334.64 L587.55,334.89 L588.64,335.19 L589.51,335.54 L590.14,335.93 L590.52,336.34 L590.65,336.79 L590.65,466.09 L590.52,466.55 L590.14,467.02 L589.51,467.49 L588.64,467.96 L587.55,468.40 L586.26,468.83 L584.78,469.23 L583.15,469.59 L581.39,469.91 L579.53,470.18 L577.61,470.39 L575.65,470.56 L573.69,470.66 L571.77,470.70 L569.91,470.68 L568.15,470.60 L566.52,470.46 L565.04,470.26 L563.75,470.00 L562.66,469.70 L561.79,469.35 L561.16,468.97 L560.78,468.55 L560.65,468.11Z" fill="url(#shade)"/>
<clipPath id="c16"><path d="M590.05,337.79 L590.48,337.32 L590.65,336.86 L590.56,336.42 L590.22,335.99 L589.63,335.60 L588.80,335.25 L587.75,334.94 L586.49,334.68 L585.04,334.47 L583.43,334.32 L581.69,334.23 L579.85,334.19 L577.93,334.23 L575.98,334.32 L574.02,334.47 L572.09,334.68 L570.22,334.94 L568.44,335.25 L566.78,335.60 L565.28,335.99 L563.95,336.42 L562.83,336.86 L561.92,337.32 L561.25,337.79 L560.82,338.26 L560.65,338.73 L560.74,339.17 L561.08,339.59 L561.67,339.99 L562.50,340.34 L563.55,340.65 L564.81,340.91 L566.26,341.12 L567.87,341.27 L569.61,341.36 L571.45,341.39 L573.37,341.36 L575.32,341.27 L577.28,341.12 L579.21,340.91 L581.08,340.65 L582.86,340.34 L584.52,339.99 L586.02,339.59 L587.35,339.17 L588.47,338.73 L589.38,338.26 L590.05,337.79Z"/></clipPath>
<g clip-path="url(#c16)"><path d="M560.65,338.80 L560.78,338.34 L561.16,337.87 L561.79,337.40 L562.66,336.94 L563.75,336.49 L565.04,336.06 L566.52,335.67 L568.15,335.31 L569.91,334.99 L571.77,334.72 L573.69,334.50 L575.65,334.34 L577.61,334.24 L579.53,334.20 L581.39,334.22 L583.15,334.30 L584.78,334.44 L586.26,334.64 L587.55,334.89 L588.64,335.19 L589.51,335.54 L590.14,335.93 L590.52,336.34 L590.65,336.79 L590.65,466.09 L590.52,466.55 L590.14,467.02 L589.51,467.49 L588.64,467.96 L587.55,468.40 L586.26,468.83 L584.78,469.23 L583.15,469.59 L581.39,469.91 L579.53,470.18 L577.61,470.39 L575.65,470.56 L573.69,470.66 L571.77,470.70 L569.91,470.68 L568.15,470.60 L566.52,470.46 L565.04,470.26 L563.75,470.00 L562.66,469.70 L561.79,469.35 L561.16,468.97 L560.78,468.55 L560.65,468.11Z" fill="url(#g-sunset)"/><path d="M590.05,337.79 L590.48,337.32 L590.65,336.86 L590.56,336.42 L590.22,335.99 L589.63,335.60 L588.80,335.25 L587.75,334.94 L586.49,334.68 L585.04,334.47 L583.43,334.32 L581.69,334.23 L579.85,334.19 L577.93,334.23 L575.98,334.32 L574.02,334.47 L572.09,334.68 L570.22,334.94 L568.44,335.25 L566.78,335.60 L565.28,335.99 L563.95,336.42 L562.83,336.86 L561.92,337.32 L561.25,337.79 L560.82,338.26 L560.65,338.73 L560.74,339.17 L561.08,339.59 L561.67,339.99 L562.50,340.34 L563.55,340.65 L564.81,340.91 L566.26,341.12 L567.87,341.27 L569.61,341.36 L571.45,341.39 L573.37,341.36 L575.32,341.27 L577.28,341.12 L579.21,340.91 L581.08,340.65 L582.86,340.34 L584.52,339.99 L586.02,339.59 L587.35,339.17 L588.47,338.73 L589.38,338.26 L590.05,337.79Z" fill="url(#topshade)" opacity="1"/></g>
<path d="M590.05,337.79 L590.48,337.32 L590.65,336.86 L590.56,336.42 L590.22,335.99 L589.63,335.60 L588.80,335.25 L587.75,334.94 L586.49,334.68 L585.04,334.47 L583.43,334.32 L581.69,334.23 L579.85,334.19 L577.93,334.23 L575.98,334.32 L574.02,334.47 L572.09,334.68 L570.22,334.94 L568.44,335.25 L566.78,335.60 L565.28,335.99 L563.95,336.42 L562.83,336.86 L561.92,337.32 L561.25,337.79 L560.82,338.26 L560.65,338.73 L560.74,339.17 L561.08,339.59 L561.67,339.99 L562.50,340.34 L563.55,340.65 L564.81,340.91 L566.26,341.12 L567.87,341.27 L569.61,341.36 L571.45,341.39 L573.37,341.36 L575.32,341.27 L577.28,341.12 L579.21,340.91 L581.08,340.65 L582.86,340.34 L584.52,339.99 L586.02,339.59 L587.35,339.17 L588.47,338.73 L589.38,338.26 L590.05,337.79Z" fill="none" stroke="#fff" stroke-opacity="0.13" stroke-width="0.8"/>
<path d="M589.85,449.64 L589.98,449.18 L590.36,448.71 L590.99,448.24 L591.86,447.77 L592.95,447.32 L594.24,446.90 L595.72,446.50 L597.35,446.14 L599.11,445.82 L600.97,445.55 L602.89,445.33 L604.85,445.17 L606.81,445.07 L608.73,445.03 L610.59,445.05 L612.35,445.13 L613.98,445.27 L615.46,445.47 L616.75,445.72 L617.84,446.03 L618.71,446.37 L619.34,446.76 L619.72,447.18 L619.85,447.62 L619.85,466.09 L619.72,466.55 L619.34,467.02 L618.71,467.49 L617.84,467.96 L616.75,468.40 L615.46,468.83 L613.98,469.23 L612.35,469.59 L610.59,469.91 L608.73,470.18 L606.81,470.39 L604.85,470.56 L602.89,470.66 L600.97,470.70 L599.11,470.68 L597.35,470.60 L595.72,470.46 L594.24,470.26 L592.95,470.00 L591.86,469.70 L590.99,469.35 L590.36,468.97 L589.98,468.55 L589.85,468.11Z" fill="url(#g-benz)"/>
<path d="M589.85,449.64 L589.98,449.18 L590.36,448.71 L590.99,448.24 L591.86,447.77 L592.95,447.32 L594.24,446.90 L595.72,446.50 L597.35,446.14 L599.11,445.82 L600.97,445.55 L602.89,445.33 L604.85,445.17 L606.81,445.07 L608.73,445.03 L610.59,445.05 L612.35,445.13 L613.98,445.27 L615.46,445.47 L616.75,445.72 L617.84,446.03 L618.71,446.37 L619.34,446.76 L619.72,447.18 L619.85,447.62 L619.85,466.09 L619.72,466.55 L619.34,467.02 L618.71,467.49 L617.84,467.96 L616.75,468.40 L615.46,468.83 L613.98,469.23 L612.35,469.59 L610.59,469.91 L608.73,470.18 L606.81,470.39 L604.85,470.56 L602.89,470.66 L600.97,470.70 L599.11,470.68 L597.35,470.60 L595.72,470.46 L594.24,470.26 L592.95,470.00 L591.86,469.70 L590.99,469.35 L590.36,468.97 L589.98,468.55 L589.85,468.11Z" fill="url(#shade)"/>
<clipPath id="c17"><path d="M619.25,448.63 L619.68,448.16 L619.85,447.70 L619.76,447.25 L619.42,446.83 L618.83,446.44 L618.00,446.08 L616.95,445.77 L615.69,445.51 L614.24,445.30 L612.63,445.15 L610.89,445.06 L609.05,445.03 L607.13,445.06 L605.18,445.15 L603.22,445.30 L601.29,445.51 L599.42,445.77 L597.64,446.08 L595.98,446.44 L594.48,446.83 L593.15,447.25 L592.03,447.70 L591.12,448.16 L590.45,448.63 L590.02,449.10 L589.85,449.56 L589.94,450.01 L590.28,450.43 L590.87,450.82 L591.70,451.17 L592.75,451.48 L594.01,451.75 L595.46,451.95 L597.07,452.11 L598.81,452.20 L600.65,452.23 L602.57,452.20 L604.52,452.11 L606.48,451.95 L608.41,451.75 L610.28,451.48 L612.06,451.17 L613.72,450.82 L615.22,450.43 L616.55,450.01 L617.67,449.56 L618.58,449.10 L619.25,448.63Z"/></clipPath>
<g clip-path="url(#c17)"><path d="M589.85,449.64 L589.98,449.18 L590.36,448.71 L590.99,448.24 L591.86,447.77 L592.95,447.32 L594.24,446.90 L595.72,446.50 L597.35,446.14 L599.11,445.82 L600.97,445.55 L602.89,445.33 L604.85,445.17 L606.81,445.07 L608.73,445.03 L610.59,445.05 L612.35,445.13 L613.98,445.27 L615.46,445.47 L616.75,445.72 L617.84,446.03 L618.71,446.37 L619.34,446.76 L619.72,447.18 L619.85,447.62 L619.85,466.09 L619.72,466.55 L619.34,467.02 L618.71,467.49 L617.84,467.96 L616.75,468.40 L615.46,468.83 L613.98,469.23 L612.35,469.59 L610.59,469.91 L608.73,470.18 L606.81,470.39 L604.85,470.56 L602.89,470.66 L600.97,470.70 L599.11,470.68 L597.35,470.60 L595.72,470.46 L594.24,470.26 L592.95,470.00 L591.86,469.70 L590.99,469.35 L590.36,468.97 L589.98,468.55 L589.85,468.11Z" fill="url(#g-benz)"/><path d="M619.25,448.63 L619.68,448.16 L619.85,447.70 L619.76,447.25 L619.42,446.83 L618.83,446.44 L618.00,446.08 L616.95,445.77 L615.69,445.51 L614.24,445.30 L612.63,445.15 L610.89,445.06 L609.05,445.03 L607.13,445.06 L605.18,445.15 L603.22,445.30 L601.29,445.51 L599.42,445.77 L597.64,446.08 L595.98,446.44 L594.48,446.83 L593.15,447.25 L592.03,447.70 L591.12,448.16 L590.45,448.63 L590.02,449.10 L589.85,449.56 L589.94,450.01 L590.28,450.43 L590.87,450.82 L591.70,451.17 L592.75,451.48 L594.01,451.75 L595.46,451.95 L597.07,452.11 L598.81,452.20 L600.65,452.23 L602.57,452.20 L604.52,452.11 L606.48,451.95 L608.41,451.75 L610.28,451.48 L612.06,451.17 L613.72,450.82 L615.22,450.43 L616.55,450.01 L617.67,449.56 L618.58,449.10 L619.25,448.63Z" fill="url(#topshade)" opacity="0.4"/></g>
<path d="M619.25,448.63 L619.68,448.16 L619.85,447.70 L619.76,447.25 L619.42,446.83 L618.83,446.44 L618.00,446.08 L616.95,445.77 L615.69,445.51 L614.24,445.30 L612.63,445.15 L610.89,445.06 L609.05,445.03 L607.13,445.06 L605.18,445.15 L603.22,445.30 L601.29,445.51 L599.42,445.77 L597.64,446.08 L595.98,446.44 L594.48,446.83 L593.15,447.25 L592.03,447.70 L591.12,448.16 L590.45,448.63 L590.02,449.10 L589.85,449.56 L589.94,450.01 L590.28,450.43 L590.87,450.82 L591.70,451.17 L592.75,451.48 L594.01,451.75 L595.46,451.95 L597.07,452.11 L598.81,452.20 L600.65,452.23 L602.57,452.20 L604.52,452.11 L606.48,451.95 L608.41,451.75 L610.28,451.48 L612.06,451.17 L613.72,450.82 L615.22,450.43 L616.55,450.01 L617.67,449.56 L618.58,449.10 L619.25,448.63Z" fill="none" stroke="#fff" stroke-opacity="0.13" stroke-width="0.8"/>
<path d="M634.95,191.02 L635.08,190.56 L635.46,190.10 L636.09,189.63 L636.96,189.16 L638.05,188.71 L639.34,188.29 L640.82,187.89 L642.45,187.53 L644.21,187.21 L646.07,186.94 L647.99,186.72 L649.95,186.56 L651.91,186.46 L653.83,186.42 L655.69,186.44 L657.45,186.52 L659.08,186.66 L660.56,186.86 L661.85,187.11 L662.94,187.42 L663.81,187.76 L664.44,188.15 L664.82,188.57 L664.95,189.01 L664.95,466.09 L664.82,466.55 L664.44,467.02 L663.81,467.49 L662.94,467.96 L661.85,468.40 L660.56,468.83 L659.08,469.23 L657.45,469.59 L655.69,469.91 L653.83,470.18 L651.91,470.39 L649.95,470.56 L647.99,470.66 L646.07,470.70 L644.21,470.68 L642.45,470.60 L640.82,470.46 L639.34,470.26 L638.05,470.00 L636.96,469.70 L636.09,469.35 L635.46,468.97 L635.08,468.55 L634.95,468.11Z" fill="url(#g-peacock)"/>
<path d="M634.95,191.02 L635.08,190.56 L635.46,190.10 L636.09,189.63 L636.96,189.16 L638.05,188.71 L639.34,188.29 L640.82,187.89 L642.45,187.53 L644.21,187.21 L646.07,186.94 L647.99,186.72 L649.95,186.56 L651.91,186.46 L653.83,186.42 L655.69,186.44 L657.45,186.52 L659.08,186.66 L660.56,186.86 L661.85,187.11 L662.94,187.42 L663.81,187.76 L664.44,188.15 L664.82,188.57 L664.95,189.01 L664.95,466.09 L664.82,466.55 L664.44,467.02 L663.81,467.49 L662.94,467.96 L661.85,468.40 L660.56,468.83 L659.08,469.23 L657.45,469.59 L655.69,469.91 L653.83,470.18 L651.91,470.39 L649.95,470.56 L647.99,470.66 L646.07,470.70 L644.21,470.68 L642.45,470.60 L640.82,470.46 L639.34,470.26 L638.05,470.00 L636.96,469.70 L636.09,469.35 L635.46,468.97 L635.08,468.55 L634.95,468.11Z" fill="url(#shade)"/>
<clipPath id="c20"><path d="M664.35,190.02 L664.78,189.55 L664.95,189.08 L664.86,188.64 L664.52,188.22 L663.93,187.83 L663.10,187.47 L662.05,187.16 L660.79,186.90 L659.34,186.69 L657.73,186.54 L655.99,186.45 L654.15,186.42 L652.23,186.45 L650.28,186.54 L648.32,186.69 L646.39,186.90 L644.52,187.16 L642.74,187.47 L641.08,187.83 L639.58,188.22 L638.25,188.64 L637.13,189.08 L636.22,189.55 L635.55,190.02 L635.12,190.49 L634.95,190.95 L635.04,191.39 L635.38,191.82 L635.97,192.21 L636.80,192.56 L637.85,192.87 L639.11,193.13 L640.56,193.34 L642.17,193.49 L643.91,193.59 L645.75,193.62 L647.67,193.59 L649.62,193.49 L651.58,193.34 L653.51,193.13 L655.38,192.87 L657.16,192.56 L658.82,192.21 L660.32,191.82 L661.65,191.39 L662.77,190.95 L663.68,190.49 L664.35,190.02Z"/></clipPath>
<g clip-path="url(#c20)"><path d="M634.95,191.02 L635.08,190.56 L635.46,190.10 L636.09,189.63 L636.96,189.16 L638.05,188.71 L639.34,188.29 L640.82,187.89 L642.45,187.53 L644.21,187.21 L646.07,186.94 L647.99,186.72 L649.95,186.56 L651.91,186.46 L653.83,186.42 L655.69,186.44 L657.45,186.52 L659.08,186.66 L660.56,186.86 L661.85,187.11 L662.94,187.42 L663.81,187.76 L664.44,188.15 L664.82,188.57 L664.95,189.01 L664.95,466.09 L664.82,466.55 L664.44,467.02 L663.81,467.49 L662.94,467.96 L661.85,468.40 L660.56,468.83 L659.08,469.23 L657.45,469.59 L655.69,469.91 L653.83,470.18 L651.91,470.39 L649.95,470.56 L647.99,470.66 L646.07,470.70 L644.21,470.68 L642.45,470.60 L640.82,470.46 L639.34,470.26 L638.05,470.00 L636.96,469.70 L636.09,469.35 L635.46,468.97 L635.08,468.55 L634.95,468.11Z" fill="url(#g-peacock)"/><path d="M664.35,190.02 L664.78,189.55 L664.95,189.08 L664.86,188.64 L664.52,188.22 L663.93,187.83 L663.10,187.47 L662.05,187.16 L660.79,186.90 L659.34,186.69 L657.73,186.54 L655.99,186.45 L654.15,186.42 L652.23,186.45 L650.28,186.54 L648.32,186.69 L646.39,186.90 L644.52,187.16 L642.74,187.47 L641.08,187.83 L639.58,188.22 L638.25,188.64 L637.13,189.08 L636.22,189.55 L635.55,190.02 L635.12,190.49 L634.95,190.95 L635.04,191.39 L635.38,191.82 L635.97,192.21 L636.80,192.56 L637.85,192.87 L639.11,193.13 L640.56,193.34 L642.17,193.49 L643.91,193.59 L645.75,193.62 L647.67,193.59 L649.62,193.49 L651.58,193.34 L653.51,193.13 L655.38,192.87 L657.16,192.56 L658.82,192.21 L660.32,191.82 L661.65,191.39 L662.77,190.95 L663.68,190.49 L664.35,190.02Z" fill="url(#topshade)" opacity="1"/></g>
<path d="M664.35,190.02 L664.78,189.55 L664.95,189.08 L664.86,188.64 L664.52,188.22 L663.93,187.83 L663.10,187.47 L662.05,187.16 L660.79,186.90 L659.34,186.69 L657.73,186.54 L655.99,186.45 L654.15,186.42 L652.23,186.45 L650.28,186.54 L648.32,186.69 L646.39,186.90 L644.52,187.16 L642.74,187.47 L641.08,187.83 L639.58,188.22 L638.25,188.64 L637.13,189.08 L636.22,189.55 L635.55,190.02 L635.12,190.49 L634.95,190.95 L635.04,191.39 L635.38,191.82 L635.97,192.21 L636.80,192.56 L637.85,192.87 L639.11,193.13 L640.56,193.34 L642.17,193.49 L643.91,193.59 L645.75,193.62 L647.67,193.59 L649.62,193.49 L651.58,193.34 L653.51,193.13 L655.38,192.87 L657.16,192.56 L658.82,192.21 L660.32,191.82 L661.65,191.39 L662.77,190.95 L663.68,190.49 L664.35,190.02Z" fill="none" stroke="#fff" stroke-opacity="0.13" stroke-width="0.8"/>
<path d="M664.15,431.16 L664.28,430.70 L664.66,430.23 L665.29,429.76 L666.16,429.30 L667.25,428.85 L668.54,428.42 L670.02,428.03 L671.65,427.67 L673.41,427.35 L675.27,427.08 L677.19,426.86 L679.15,426.70 L681.11,426.60 L683.03,426.56 L684.89,426.58 L686.65,426.66 L688.28,426.80 L689.76,427.00 L691.05,427.25 L692.14,427.55 L693.01,427.90 L693.64,428.29 L694.02,428.71 L694.15,429.15 L694.15,466.09 L694.02,466.55 L693.64,467.02 L693.01,467.49 L692.14,467.96 L691.05,468.40 L689.76,468.83 L688.28,469.23 L686.65,469.59 L684.89,469.91 L683.03,470.18 L681.11,470.39 L679.15,470.56 L677.19,470.66 L675.27,470.70 L673.41,470.68 L671.65,470.60 L670.02,470.46 L668.54,470.26 L667.25,470.00 L666.16,469.70 L665.29,469.35 L664.66,468.97 L664.28,468.55 L664.15,468.11Z" fill="url(#g-fog)"/>
<path d="M664.15,431.16 L664.28,430.70 L664.66,430.23 L665.29,429.76 L666.16,429.30 L667.25,428.85 L668.54,428.42 L670.02,428.03 L671.65,427.67 L673.41,427.35 L675.27,427.08 L677.19,426.86 L679.15,426.70 L681.11,426.60 L683.03,426.56 L684.89,426.58 L686.65,426.66 L688.28,426.80 L689.76,427.00 L691.05,427.25 L692.14,427.55 L693.01,427.90 L693.64,428.29 L694.02,428.71 L694.15,429.15 L694.15,466.09 L694.02,466.55 L693.64,467.02 L693.01,467.49 L692.14,467.96 L691.05,468.40 L689.76,468.83 L688.28,469.23 L686.65,469.59 L684.89,469.91 L683.03,470.18 L681.11,470.39 L679.15,470.56 L677.19,470.66 L675.27,470.70 L673.41,470.68 L671.65,470.60 L670.02,470.46 L668.54,470.26 L667.25,470.00 L666.16,469.70 L665.29,469.35 L664.66,468.97 L664.28,468.55 L664.15,468.11Z" fill="url(#shade)"/>
<clipPath id="c21"><path d="M693.55,430.16 L693.98,429.69 L694.15,429.22 L694.06,428.78 L693.72,428.36 L693.13,427.96 L692.30,427.61 L691.25,427.30 L689.99,427.04 L688.54,426.83 L686.93,426.68 L685.19,426.59 L683.35,426.56 L681.43,426.59 L679.48,426.68 L677.52,426.83 L675.59,427.04 L673.72,427.30 L671.94,427.61 L670.28,427.96 L668.78,428.36 L667.45,428.78 L666.33,429.22 L665.42,429.69 L664.75,430.16 L664.32,430.63 L664.15,431.09 L664.24,431.53 L664.58,431.96 L665.17,432.35 L666.00,432.70 L667.05,433.01 L668.31,433.27 L669.76,433.48 L671.37,433.63 L673.11,433.72 L674.95,433.76 L676.87,433.72 L678.82,433.63 L680.78,433.48 L682.71,433.27 L684.58,433.01 L686.36,432.70 L688.02,432.35 L689.52,431.96 L690.85,431.53 L691.97,431.09 L692.88,430.63 L693.55,430.16Z"/></clipPath>
<g clip-path="url(#c21)"><path d="M664.15,431.16 L664.28,430.70 L664.66,430.23 L665.29,429.76 L666.16,429.30 L667.25,428.85 L668.54,428.42 L670.02,428.03 L671.65,427.67 L673.41,427.35 L675.27,427.08 L677.19,426.86 L679.15,426.70 L681.11,426.60 L683.03,426.56 L684.89,426.58 L686.65,426.66 L688.28,426.80 L689.76,427.00 L691.05,427.25 L692.14,427.55 L693.01,427.90 L693.64,428.29 L694.02,428.71 L694.15,429.15 L694.15,466.09 L694.02,466.55 L693.64,467.02 L693.01,467.49 L692.14,467.96 L691.05,468.40 L689.76,468.83 L688.28,469.23 L686.65,469.59 L684.89,469.91 L683.03,470.18 L681.11,470.39 L679.15,470.56 L677.19,470.66 L675.27,470.70 L673.41,470.68 L671.65,470.60 L670.02,470.46 L668.54,470.26 L667.25,470.00 L666.16,469.70 L665.29,469.35 L664.66,468.97 L664.28,468.55 L664.15,468.11Z" fill="url(#g-fog)"/><path d="M693.55,430.16 L693.98,429.69 L694.15,429.22 L694.06,428.78 L693.72,428.36 L693.13,427.96 L692.30,427.61 L691.25,427.30 L689.99,427.04 L688.54,426.83 L686.93,426.68 L685.19,426.59 L683.35,426.56 L681.43,426.59 L679.48,426.68 L677.52,426.83 L675.59,427.04 L673.72,427.30 L671.94,427.61 L670.28,427.96 L668.78,428.36 L667.45,428.78 L666.33,429.22 L665.42,429.69 L664.75,430.16 L664.32,430.63 L664.15,431.09 L664.24,431.53 L664.58,431.96 L665.17,432.35 L666.00,432.70 L667.05,433.01 L668.31,433.27 L669.76,433.48 L671.37,433.63 L673.11,433.72 L674.95,433.76 L676.87,433.72 L678.82,433.63 L680.78,433.48 L682.71,433.27 L684.58,433.01 L686.36,432.70 L688.02,432.35 L689.52,431.96 L690.85,431.53 L691.97,431.09 L692.88,430.63 L693.55,430.16Z" fill="url(#topshade)" opacity="0.55"/></g>
<path d="M693.55,430.16 L693.98,429.69 L694.15,429.22 L694.06,428.78 L693.72,428.36 L693.13,427.96 L692.30,427.61 L691.25,427.30 L689.99,427.04 L688.54,426.83 L686.93,426.68 L685.19,426.59 L683.35,426.56 L681.43,426.59 L679.48,426.68 L677.52,426.83 L675.59,427.04 L673.72,427.30 L671.94,427.61 L670.28,427.96 L668.78,428.36 L667.45,428.78 L666.33,429.22 L665.42,429.69 L664.75,430.16 L664.32,430.63 L664.15,431.09 L664.24,431.53 L664.58,431.96 L665.17,432.35 L666.00,432.70 L667.05,433.01 L668.31,433.27 L669.76,433.48 L671.37,433.63 L673.11,433.72 L674.95,433.76 L676.87,433.72 L678.82,433.63 L680.78,433.48 L682.71,433.27 L684.58,433.01 L686.36,432.70 L688.02,432.35 L689.52,431.96 L690.85,431.53 L691.97,431.09 L692.88,430.63 L693.55,430.16Z" fill="none" stroke="#fff" stroke-opacity="0.13" stroke-width="0.8"/>
<path d="M693.35,412.69 L693.48,412.23 L693.86,411.76 L694.49,411.29 L695.36,410.83 L696.45,410.38 L697.74,409.95 L699.22,409.56 L700.85,409.19 L702.61,408.88 L704.47,408.61 L706.39,408.39 L708.35,408.23 L710.31,408.13 L712.23,408.08 L714.09,408.10 L715.85,408.19 L717.48,408.33 L718.96,408.53 L720.25,408.78 L721.34,409.08 L722.21,409.43 L722.84,409.82 L723.22,410.23 L723.35,410.68 L723.35,466.09 L723.22,466.55 L722.84,467.02 L722.21,467.49 L721.34,467.96 L720.25,468.40 L718.96,468.83 L717.48,469.23 L715.85,469.59 L714.09,469.91 L712.23,470.18 L710.31,470.39 L708.35,470.56 L706.39,470.66 L704.47,470.70 L702.61,470.68 L700.85,470.60 L699.22,470.46 L697.74,470.26 L696.45,470.00 L695.36,469.70 L694.49,469.35 L693.86,468.97 L693.48,468.55 L693.35,468.11Z" fill="url(#g-wheat)"/>
<path d="M693.35,412.69 L693.48,412.23 L693.86,411.76 L694.49,411.29 L695.36,410.83 L696.45,410.38 L697.74,409.95 L699.22,409.56 L700.85,409.19 L702.61,408.88 L704.47,408.61 L706.39,408.39 L708.35,408.23 L710.31,408.13 L712.23,408.08 L714.09,408.10 L715.85,408.19 L717.48,408.33 L718.96,408.53 L720.25,408.78 L721.34,409.08 L722.21,409.43 L722.84,409.82 L723.22,410.23 L723.35,410.68 L723.35,466.09 L723.22,466.55 L722.84,467.02 L722.21,467.49 L721.34,467.96 L720.25,468.40 L718.96,468.83 L717.48,469.23 L715.85,469.59 L714.09,469.91 L712.23,470.18 L710.31,470.39 L708.35,470.56 L706.39,470.66 L704.47,470.70 L702.61,470.68 L700.85,470.60 L699.22,470.46 L697.74,470.26 L696.45,470.00 L695.36,469.70 L694.49,469.35 L693.86,468.97 L693.48,468.55 L693.35,468.11Z" fill="url(#shade)"/>
<clipPath id="c22"><path d="M722.75,411.68 L723.18,411.21 L723.35,410.75 L723.26,410.31 L722.92,409.88 L722.33,409.49 L721.50,409.14 L720.45,408.83 L719.19,408.57 L717.74,408.36 L716.13,408.21 L714.39,408.11 L712.55,408.08 L710.63,408.11 L708.68,408.21 L706.72,408.36 L704.79,408.57 L702.92,408.83 L701.14,409.14 L699.48,409.49 L697.98,409.88 L696.65,410.31 L695.53,410.75 L694.62,411.21 L693.95,411.68 L693.52,412.15 L693.35,412.62 L693.44,413.06 L693.78,413.48 L694.37,413.87 L695.20,414.23 L696.25,414.54 L697.51,414.80 L698.96,415.01 L700.57,415.16 L702.31,415.25 L704.15,415.28 L706.07,415.25 L708.02,415.16 L709.98,415.01 L711.91,414.80 L713.78,414.54 L715.56,414.23 L717.22,413.87 L718.72,413.48 L720.05,413.06 L721.17,412.62 L722.08,412.15 L722.75,411.68Z"/></clipPath>
<g clip-path="url(#c22)"><path d="M693.35,412.69 L693.48,412.23 L693.86,411.76 L694.49,411.29 L695.36,410.83 L696.45,410.38 L697.74,409.95 L699.22,409.56 L700.85,409.19 L702.61,408.88 L704.47,408.61 L706.39,408.39 L708.35,408.23 L710.31,408.13 L712.23,408.08 L714.09,408.10 L715.85,408.19 L717.48,408.33 L718.96,408.53 L720.25,408.78 L721.34,409.08 L722.21,409.43 L722.84,409.82 L723.22,410.23 L723.35,410.68 L723.35,466.09 L723.22,466.55 L722.84,467.02 L722.21,467.49 L721.34,467.96 L720.25,468.40 L718.96,468.83 L717.48,469.23 L715.85,469.59 L714.09,469.91 L712.23,470.18 L710.31,470.39 L708.35,470.56 L706.39,470.66 L704.47,470.70 L702.61,470.68 L700.85,470.60 L699.22,470.46 L697.74,470.26 L696.45,470.00 L695.36,469.70 L694.49,469.35 L693.86,468.97 L693.48,468.55 L693.35,468.11Z" fill="url(#g-wheat)"/><path d="M722.75,411.68 L723.18,411.21 L723.35,410.75 L723.26,410.31 L722.92,409.88 L722.33,409.49 L721.50,409.14 L720.45,408.83 L719.19,408.57 L717.74,408.36 L716.13,408.21 L714.39,408.11 L712.55,408.08 L710.63,408.11 L708.68,408.21 L706.72,408.36 L704.79,408.57 L702.92,408.83 L701.14,409.14 L699.48,409.49 L697.98,409.88 L696.65,410.31 L695.53,410.75 L694.62,411.21 L693.95,411.68 L693.52,412.15 L693.35,412.62 L693.44,413.06 L693.78,413.48 L694.37,413.87 L695.20,414.23 L696.25,414.54 L697.51,414.80 L698.96,415.01 L700.57,415.16 L702.31,415.25 L704.15,415.28 L706.07,415.25 L708.02,415.16 L709.98,415.01 L711.91,414.80 L713.78,414.54 L715.56,414.23 L717.22,413.87 L718.72,413.48 L720.05,413.06 L721.17,412.62 L722.08,412.15 L722.75,411.68Z" fill="url(#topshade)" opacity="0.8"/></g>
<path d="M722.75,411.68 L723.18,411.21 L723.35,410.75 L723.26,410.31 L722.92,409.88 L722.33,409.49 L721.50,409.14 L720.45,408.83 L719.19,408.57 L717.74,408.36 L716.13,408.21 L714.39,408.11 L712.55,408.08 L710.63,408.11 L708.68,408.21 L706.72,408.36 L704.79,408.57 L702.92,408.83 L701.14,409.14 L699.48,409.49 L697.98,409.88 L696.65,410.31 L695.53,410.75 L694.62,411.21 L693.95,411.68 L693.52,412.15 L693.35,412.62 L693.44,413.06 L693.78,413.48 L694.37,413.87 L695.20,414.23 L696.25,414.54 L697.51,414.80 L698.96,415.01 L700.57,415.16 L702.31,415.25 L704.15,415.28 L706.07,415.25 L708.02,415.16 L709.98,415.01 L711.91,414.80 L713.78,414.54 L715.56,414.23 L717.22,413.87 L718.72,413.48 L720.05,413.06 L721.17,412.62 L722.08,412.15 L722.75,411.68Z" fill="none" stroke="#fff" stroke-opacity="0.13" stroke-width="0.8"/>
<path d="M722.55,357.27 L722.68,356.81 L723.06,356.35 L723.69,355.88 L724.56,355.41 L725.65,354.96 L726.94,354.54 L728.42,354.14 L730.05,353.78 L731.81,353.46 L733.67,353.19 L735.59,352.97 L737.55,352.81 L739.51,352.71 L741.43,352.67 L743.29,352.69 L745.05,352.77 L746.68,352.91 L748.16,353.11 L749.45,353.36 L750.54,353.67 L751.41,354.01 L752.04,354.40 L752.42,354.82 L752.55,355.26 L752.55,466.09 L752.42,466.55 L752.04,467.02 L751.41,467.49 L750.54,467.96 L749.45,468.40 L748.16,468.83 L746.68,469.23 L745.05,469.59 L743.29,469.91 L741.43,470.18 L739.51,470.39 L737.55,470.56 L735.59,470.66 L733.67,470.70 L731.81,470.68 L730.05,470.60 L728.42,470.46 L726.94,470.26 L725.65,470.00 L724.56,469.70 L723.69,469.35 L723.06,468.97 L722.68,468.55 L722.55,468.11Z" fill="url(#g-ocean)"/>
<path d="M722.55,357.27 L722.68,356.81 L723.06,356.35 L723.69,355.88 L724.56,355.41 L725.65,354.96 L726.94,354.54 L728.42,354.14 L730.05,353.78 L731.81,353.46 L733.67,353.19 L735.59,352.97 L737.55,352.81 L739.51,352.71 L741.43,352.67 L743.29,352.69 L745.05,352.77 L746.68,352.91 L748.16,353.11 L749.45,353.36 L750.54,353.67 L751.41,354.01 L752.04,354.40 L752.42,354.82 L752.55,355.26 L752.55,466.09 L752.42,466.55 L752.04,467.02 L751.41,467.49 L750.54,467.96 L749.45,468.40 L748.16,468.83 L746.68,469.23 L745.05,469.59 L743.29,469.91 L741.43,470.18 L739.51,470.39 L737.55,470.56 L735.59,470.66 L733.67,470.70 L731.81,470.68 L730.05,470.60 L728.42,470.46 L726.94,470.26 L725.65,470.00 L724.56,469.70 L723.69,469.35 L723.06,468.97 L722.68,468.55 L722.55,468.11Z" fill="url(#shade)"/>
<clipPath id="c23"><path d="M751.95,356.27 L752.38,355.80 L752.55,355.33 L752.46,354.89 L752.12,354.47 L751.53,354.08 L750.70,353.72 L749.65,353.41 L748.39,353.15 L746.94,352.94 L745.33,352.79 L743.59,352.70 L741.75,352.67 L739.83,352.70 L737.88,352.79 L735.92,352.94 L733.99,353.15 L732.12,353.41 L730.34,353.72 L728.68,354.08 L727.18,354.47 L725.85,354.89 L724.73,355.33 L723.82,355.80 L723.15,356.27 L722.72,356.74 L722.55,357.20 L722.64,357.64 L722.98,358.07 L723.57,358.46 L724.40,358.81 L725.45,359.12 L726.71,359.38 L728.16,359.59 L729.77,359.74 L731.51,359.84 L733.35,359.87 L735.27,359.84 L737.22,359.74 L739.18,359.59 L741.11,359.38 L742.98,359.12 L744.76,358.81 L746.42,358.46 L747.92,358.07 L749.25,357.64 L750.37,357.20 L751.28,356.74 L751.95,356.27Z"/></clipPath>
<g clip-path="url(#c23)"><path d="M722.55,357.27 L722.68,356.81 L723.06,356.35 L723.69,355.88 L724.56,355.41 L725.65,354.96 L726.94,354.54 L728.42,354.14 L730.05,353.78 L731.81,353.46 L733.67,353.19 L735.59,352.97 L737.55,352.81 L739.51,352.71 L741.43,352.67 L743.29,352.69 L745.05,352.77 L746.68,352.91 L748.16,353.11 L749.45,353.36 L750.54,353.67 L751.41,354.01 L752.04,354.40 L752.42,354.82 L752.55,355.26 L752.55,466.09 L752.42,466.55 L752.04,467.02 L751.41,467.49 L750.54,467.96 L749.45,468.40 L748.16,468.83 L746.68,469.23 L745.05,469.59 L743.29,469.91 L741.43,470.18 L739.51,470.39 L737.55,470.56 L735.59,470.66 L733.67,470.70 L731.81,470.68 L730.05,470.60 L728.42,470.46 L726.94,470.26 L725.65,470.00 L724.56,469.70 L723.69,469.35 L723.06,468.97 L722.68,468.55 L722.55,468.11Z" fill="url(#g-ocean)"/><path d="M751.95,356.27 L752.38,355.80 L752.55,355.33 L752.46,354.89 L752.12,354.47 L751.53,354.08 L750.70,353.72 L749.65,353.41 L748.39,353.15 L746.94,352.94 L745.33,352.79 L743.59,352.70 L741.75,352.67 L739.83,352.70 L737.88,352.79 L735.92,352.94 L733.99,353.15 L732.12,353.41 L730.34,353.72 L728.68,354.08 L727.18,354.47 L725.85,354.89 L724.73,355.33 L723.82,355.80 L723.15,356.27 L722.72,356.74 L722.55,357.20 L722.64,357.64 L722.98,358.07 L723.57,358.46 L724.40,358.81 L725.45,359.12 L726.71,359.38 L728.16,359.59 L729.77,359.74 L731.51,359.84 L733.35,359.87 L735.27,359.84 L737.22,359.74 L739.18,359.59 L741.11,359.38 L742.98,359.12 L744.76,358.81 L746.42,358.46 L747.92,358.07 L749.25,357.64 L750.37,357.20 L751.28,356.74 L751.95,356.27Z" fill="url(#topshade)" opacity="1"/></g>
<path d="M751.95,356.27 L752.38,355.80 L752.55,355.33 L752.46,354.89 L752.12,354.47 L751.53,354.08 L750.70,353.72 L749.65,353.41 L748.39,353.15 L746.94,352.94 L745.33,352.79 L743.59,352.70 L741.75,352.67 L739.83,352.70 L737.88,352.79 L735.92,352.94 L733.99,353.15 L732.12,353.41 L730.34,353.72 L728.68,354.08 L727.18,354.47 L725.85,354.89 L724.73,355.33 L723.82,355.80 L723.15,356.27 L722.72,356.74 L722.55,357.20 L722.64,357.64 L722.98,358.07 L723.57,358.46 L724.40,358.81 L725.45,359.12 L726.71,359.38 L728.16,359.59 L729.77,359.74 L731.51,359.84 L733.35,359.87 L735.27,359.84 L737.22,359.74 L739.18,359.59 L741.11,359.38 L742.98,359.12 L744.76,358.81 L746.42,358.46 L747.92,358.07 L749.25,357.64 L750.37,357.20 L751.28,356.74 L751.95,356.27Z" fill="none" stroke="#fff" stroke-opacity="0.13" stroke-width="0.8"/>
<path d="M751.75,227.97 L751.88,227.51 L752.26,227.04 L752.89,226.57 L753.76,226.11 L754.85,225.66 L756.14,225.23 L757.62,224.83 L759.25,224.47 L761.01,224.15 L762.87,223.88 L764.79,223.67 L766.75,223.51 L768.71,223.40 L770.63,223.36 L772.49,223.38 L774.25,223.46 L775.88,223.61 L777.36,223.80 L778.65,224.06 L779.74,224.36 L780.61,224.71 L781.24,225.09 L781.62,225.51 L781.75,225.95 L781.75,466.09 L781.62,466.55 L781.24,467.02 L780.61,467.49 L779.74,467.96 L778.65,468.40 L777.36,468.83 L775.88,469.23 L774.25,469.59 L772.49,469.91 L770.63,470.18 L768.71,470.39 L766.75,470.56 L764.79,470.66 L762.87,470.70 L761.01,470.68 L759.25,470.60 L757.62,470.46 L756.14,470.26 L754.85,470.00 L753.76,469.70 L752.89,469.35 L752.26,468.97 L751.88,468.55 L751.75,468.11Z" fill="url(#g-calm)"/>
<path d="M751.75,227.97 L751.88,227.51 L752.26,227.04 L752.89,226.57 L753.76,226.11 L754.85,225.66 L756.14,225.23 L757.62,224.83 L759.25,224.47 L761.01,224.15 L762.87,223.88 L764.79,223.67 L766.75,223.51 L768.71,223.40 L770.63,223.36 L772.49,223.38 L774.25,223.46 L775.88,223.61 L777.36,223.80 L778.65,224.06 L779.74,224.36 L780.61,224.71 L781.24,225.09 L781.62,225.51 L781.75,225.95 L781.75,466.09 L781.62,466.55 L781.24,467.02 L780.61,467.49 L779.74,467.96 L778.65,468.40 L777.36,468.83 L775.88,469.23 L774.25,469.59 L772.49,469.91 L770.63,470.18 L768.71,470.39 L766.75,470.56 L764.79,470.66 L762.87,470.70 L761.01,470.68 L759.25,470.60 L757.62,470.46 L756.14,470.26 L754.85,470.00 L753.76,469.70 L752.89,469.35 L752.26,468.97 L751.88,468.55 L751.75,468.11Z" fill="url(#shade)"/>
<clipPath id="c24"><path d="M781.15,226.96 L781.58,226.49 L781.75,226.03 L781.66,225.58 L781.32,225.16 L780.73,224.77 L779.90,224.42 L778.85,224.11 L777.59,223.84 L776.14,223.64 L774.53,223.48 L772.79,223.39 L770.95,223.36 L769.03,223.39 L767.08,223.48 L765.12,223.64 L763.19,223.84 L761.32,224.11 L759.54,224.42 L757.88,224.77 L756.38,225.16 L755.05,225.58 L753.93,226.03 L753.02,226.49 L752.35,226.96 L751.92,227.43 L751.75,227.89 L751.84,228.34 L752.18,228.76 L752.77,229.15 L753.60,229.51 L754.65,229.82 L755.91,230.08 L757.36,230.29 L758.97,230.44 L760.71,230.53 L762.55,230.56 L764.47,230.53 L766.42,230.44 L768.38,230.29 L770.31,230.08 L772.18,229.82 L773.96,229.51 L775.62,229.15 L777.12,228.76 L778.45,228.34 L779.57,227.89 L780.48,227.43 L781.15,226.96Z"/></clipPath>
<g clip-path="url(#c24)"><path d="M751.75,227.97 L751.88,227.51 L752.26,227.04 L752.89,226.57 L753.76,226.11 L754.85,225.66 L756.14,225.23 L757.62,224.83 L759.25,224.47 L761.01,224.15 L762.87,223.88 L764.79,223.67 L766.75,223.51 L768.71,223.40 L770.63,223.36 L772.49,223.38 L774.25,223.46 L775.88,223.61 L777.36,223.80 L778.65,224.06 L779.74,224.36 L780.61,224.71 L781.24,225.09 L781.62,225.51 L781.75,225.95 L781.75,466.09 L781.62,466.55 L781.24,467.02 L780.61,467.49 L779.74,467.96 L778.65,468.40 L777.36,468.83 L775.88,469.23 L774.25,469.59 L772.49,469.91 L770.63,470.18 L768.71,470.39 L766.75,470.56 L764.79,470.66 L762.87,470.70 L761.01,470.68 L759.25,470.60 L757.62,470.46 L756.14,470.26 L754.85,470.00 L753.76,469.70 L752.89,469.35 L752.26,468.97 L751.88,468.55 L751.75,468.11Z" fill="url(#g-calm)"/><path d="M781.15,226.96 L781.58,226.49 L781.75,226.03 L781.66,225.58 L781.32,225.16 L780.73,224.77 L779.90,224.42 L778.85,224.11 L777.59,223.84 L776.14,223.64 L774.53,223.48 L772.79,223.39 L770.95,223.36 L769.03,223.39 L767.08,223.48 L765.12,223.64 L763.19,223.84 L761.32,224.11 L759.54,224.42 L757.88,224.77 L756.38,225.16 L755.05,225.58 L753.93,226.03 L753.02,226.49 L752.35,226.96 L751.92,227.43 L751.75,227.89 L751.84,228.34 L752.18,228.76 L752.77,229.15 L753.60,229.51 L754.65,229.82 L755.91,230.08 L757.36,230.29 L758.97,230.44 L760.71,230.53 L762.55,230.56 L764.47,230.53 L766.42,230.44 L768.38,230.29 L770.31,230.08 L772.18,229.82 L773.96,229.51 L775.62,229.15 L777.12,228.76 L778.45,228.34 L779.57,227.89 L780.48,227.43 L781.15,226.96Z" fill="url(#topshade)" opacity="1"/></g>
<path d="M781.15,226.96 L781.58,226.49 L781.75,226.03 L781.66,225.58 L781.32,225.16 L780.73,224.77 L779.90,224.42 L778.85,224.11 L777.59,223.84 L776.14,223.64 L774.53,223.48 L772.79,223.39 L770.95,223.36 L769.03,223.39 L767.08,223.48 L765.12,223.64 L763.19,223.84 L761.32,224.11 L759.54,224.42 L757.88,224.77 L756.38,225.16 L755.05,225.58 L753.93,226.03 L753.02,226.49 L752.35,226.96 L751.92,227.43 L751.75,227.89 L751.84,228.34 L752.18,228.76 L752.77,229.15 L753.60,229.51 L754.65,229.82 L755.91,230.08 L757.36,230.29 L758.97,230.44 L760.71,230.53 L762.55,230.56 L764.47,230.53 L766.42,230.44 L768.38,230.29 L770.31,230.08 L772.18,229.82 L773.96,229.51 L775.62,229.15 L777.12,228.76 L778.45,228.34 L779.57,227.89 L780.48,227.43 L781.15,226.96Z" fill="none" stroke="#fff" stroke-opacity="0.13" stroke-width="0.8"/>
<text x="83.45" y="483.00" font-size="19.0" textLength="10.93" lengthAdjust="spacingAndGlyphs">0</text>
<text x="66.13" y="446.25" font-size="19.0" textLength="27.82" lengthAdjust="spacingAndGlyphs">0,2</text>
<text x="66.13" y="409.50" font-size="19.0" textLength="27.20" lengthAdjust="spacingAndGlyphs">0,4</text>
<text x="66.12" y="372.75" font-size="19.0" textLength="28.20" lengthAdjust="spacingAndGlyphs">0,6</text>
<text x="66.08" y="336.00" font-size="19.0" textLength="27.84" lengthAdjust="spacingAndGlyphs">0,8</text>
<text x="83.70" y="299.25" font-size="19.0" textLength="10.64" lengthAdjust="spacingAndGlyphs">1</text>
<text x="65.68" y="262.50" font-size="19.0" textLength="28.41" lengthAdjust="spacingAndGlyphs">1,2</text>
<text x="65.66" y="225.75" font-size="19.0" textLength="27.85" lengthAdjust="spacingAndGlyphs">1,4</text>
<text x="65.69" y="189.00" font-size="19.0" textLength="28.28" lengthAdjust="spacingAndGlyphs">1,6</text>
<text x="65.68" y="152.25" font-size="19.0" textLength="28.28" lengthAdjust="spacingAndGlyphs">1,8</text>
<text x="188.40" y="510.90" font-size="19.0" textLength="103.71" lengthAdjust="spacingAndGlyphs">Ярославль</text>
<text x="448.02" y="510.90" font-size="19.0" textLength="83.60" lengthAdjust="spacingAndGlyphs">Рыбинск</text>
<text x="681.54" y="510.90" font-size="19.0" textLength="114.24" lengthAdjust="spacingAndGlyphs">Переславль</text>
<rect x="38.0" y="31.6" width="10.5" height="9.9" fill="url(#l-peacock)"/>
<text x="52.88" y="41.70" font-size="19.0" textLength="117.43" lengthAdjust="spacingAndGlyphs">диоксид азота</text>
<rect x="258.4" y="31.6" width="10.5" height="9.9" fill="url(#l-fog)"/>
<text x="273.39" y="41.70" font-size="19.0" textLength="96.25" lengthAdjust="spacingAndGlyphs">оксид азота</text>
<rect x="479.0" y="31.6" width="10.5" height="9.9" fill="url(#l-wheat)"/>
<text x="494.55" y="41.70" font-size="19.0" textLength="127.45" lengthAdjust="spacingAndGlyphs">оксид углерода</text>
<rect x="700.1" y="31.6" width="10.5" height="9.9" fill="url(#l-ocean)"/>
<text x="713.95" y="41.70" font-size="19.0" textLength="186.34" lengthAdjust="spacingAndGlyphs">взвещенные вещества</text>
<rect x="38.0" y="86.6" width="10.5" height="9.9" fill="url(#l-calm)"/>
<text x="52.62" y="96.30" font-size="19.0" textLength="65.87" lengthAdjust="spacingAndGlyphs">аммиак</text>
<rect x="258.4" y="86.6" width="10.5" height="9.9" fill="url(#l-gold)"/>
<text x="274.01" y="96.30" font-size="19.0" textLength="124.63" lengthAdjust="spacingAndGlyphs">формальдегид</text>
<rect x="479.0" y="86.6" width="10.5" height="9.9" fill="url(#l-sunset)"/>
<text x="494.60" y="96.30" font-size="19.0" textLength="53.92" lengthAdjust="spacingAndGlyphs">фенол</text>
<rect x="700.1" y="86.6" width="10.5" height="9.9" fill="url(#l-benz)"/>
<text x="714.23" y="96.30" font-size="19.0" textLength="111.53" lengthAdjust="spacingAndGlyphs">бенз(а)пирен</text>
</svg></body></html>
